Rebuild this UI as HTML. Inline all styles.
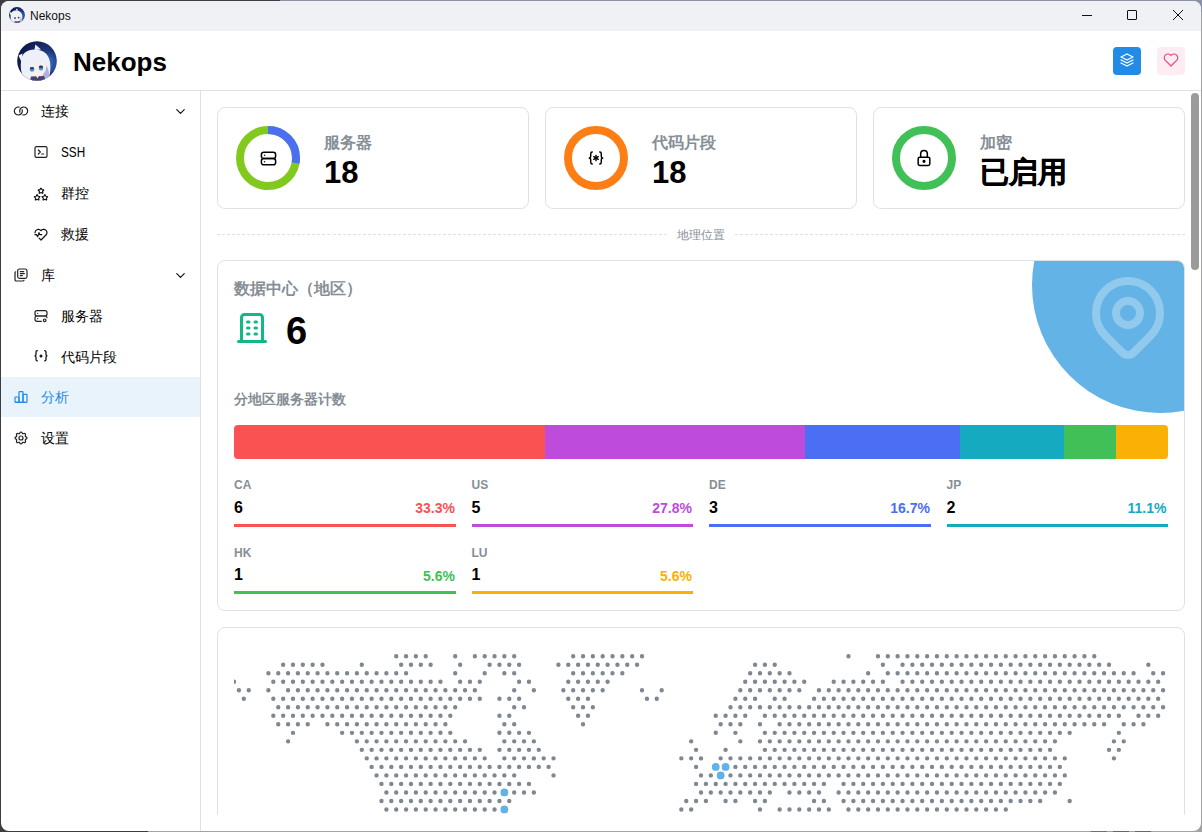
<!DOCTYPE html>
<html><head><meta charset="utf-8">
<style>
*{box-sizing:border-box;margin:0;padding:0}
html,body{width:1202px;height:832px;overflow:hidden;background:#a2a2a2;font-family:"Liberation Sans",sans-serif;}
#win{position:absolute;left:1px;top:1px;width:1200px;height:830px;border-radius:8px;overflow:hidden;background:#fff}
#pg{position:absolute;left:-1px;top:-1px;width:1202px;height:832px}
.a{position:absolute;white-space:nowrap}
.ic{position:absolute;overflow:visible}
.card{position:absolute;border:1px solid #dee2e6;border-radius:8px;background:#fff;overflow:hidden}
.dash{position:absolute;height:1px;background:repeating-linear-gradient(90deg,#dee2e6 0 3px,transparent 3px 5.0225px)}
.nl{font-size:14px;color:#000;line-height:16px}
.lab{font-size:16px;font-weight:bold;color:#868e96;line-height:18px}
.big{font-size:31px;font-weight:bold;color:#000;line-height:32px}
.cc{font-size:12px;font-weight:bold;color:#868e96;line-height:14px}
.cv{font-size:16px;font-weight:bold;color:#000;line-height:16px}
.cp{font-size:14px;font-weight:bold;line-height:16px;text-align:right}
.ln{position:absolute;height:3px;width:221.5px}
</style></head><body>
<div class="a" style="left:0;top:0;width:1px;height:832px;background:#3b3e41"></div>
<div class="a" style="left:0;top:0;width:280px;height:1px;background:#3b3e41"></div>
<div class="a" style="left:280px;top:0;width:922px;height:1px;background:#8a93a7"></div>
<div class="a" style="left:1192px;top:0;width:10px;height:12px;background:#8a93a7"></div>
<div class="a" style="left:0;top:820px;width:12px;height:12px;background:#3b3e41"></div>
<div class="a" style="left:0;top:0;width:12px;height:12px;background:#3b3e41"></div>
<div class="a" style="left:0;top:831px;width:148px;height:1px;background:#3b3e41"></div>
<div class="a" style="left:1091px;top:831px;width:16px;height:1px;background:#3f8f4f"></div>
<div class="a" style="left:1113px;top:831px;width:16px;height:1px;background:#3b6ea8"></div>
<div class="a" style="left:1135px;top:831px;width:16px;height:1px;background:#b04a4a"></div>
<div id="win"><div id="pg">
  <!-- title bar -->
  <div class="a" style="left:0;top:0;width:1202px;height:31px;background:#eff1f5"></div>
  <svg class="ic" style="left:9px;top:7px;width:16px;height:16px" viewBox="0 0 40 40">
    <defs><clipPath id="avc2"><circle cx="20" cy="20" r="19.8"/></clipPath>
    <radialGradient id="avg2" cx="0.75" cy="0.55" r="0.7"><stop offset="0" stop-color="#3d7ad0"/><stop offset="0.45" stop-color="#1d3478"/><stop offset="1" stop-color="#101849"/></radialGradient></defs>
    <g clip-path="url(#avc2)">
      <rect width="40" height="40" fill="url(#avg2)"/>
      <path d="M5.5 12.5 L1.5 14.5 L4.5 21 Z" fill="#f2f3fa"/>
      <path d="M17.5 9 L18.4 3.5 L24 8.5 Z" fill="#f2f3fa"/>
      <path d="M4 21 C4 12 11 8 19 8.5 C27 9 32 14 33 21 C34 29 33 35 30 40 L8 40 C5 34 3 28 4 21 Z" fill="#eef0f9"/>
      <path d="M27.5 22 C31 26 33 31 32 40 L25 40 Z" fill="#aeb0e0"/>
      <path d="M12.5 24 C15 21.5 26 21 29 23 C30 29 28 33.5 21 35 C15 35 12 31 12.5 24 Z" fill="#fcefe9"/>
      <path d="M11 17 L14 27 L16 19 L19 25 L21 18 L25 24 L26 18 L30 24 L29 15 Z" fill="#eef0f9"/>
      <ellipse cx="15" cy="28.3" rx="2.3" ry="2.5" fill="#3aa0e0"/>
      <ellipse cx="15" cy="27.2" rx="2.1" ry="1.3" fill="#27407f"/>
      <ellipse cx="24" cy="27" rx="2.3" ry="2.5" fill="#3aa0e0"/>
      <ellipse cx="24" cy="25.9" rx="2.1" ry="1.3" fill="#27407f"/>
      <path d="M14 35.5 L27 35 L29 40 L13 40 Z" fill="#49426e"/>
      <path d="M19 35 L22 35 L20.5 37.5 Z" fill="#e8e0f4"/>
    </g></svg>
  <div class="a" style="left:30px;top:9px;font-size:12px;line-height:14px;color:#111">Nekops</div>
  <div class="a" style="left:1082px;top:15px;width:10px;height:1px;background:#111"></div>
  <div class="a" style="left:1127px;top:10px;width:10px;height:10px;border:1px solid #111;border-radius:1px"></div>
  <svg class="ic" style="left:1173px;top:10px;width:10px;height:10px" viewBox="0 0 10 10"><path d="M0 0L10 10M10 0L0 10" stroke="#111" stroke-width="1"/></svg>

  <!-- header -->
  <div class="a" style="left:0;top:90px;width:1202px;height:1px;background:#dee2e6"></div>
  <svg class="ic" style="left:17px;top:41px;width:40px;height:40px" viewBox="0 0 40 40">
    <defs><clipPath id="avc"><circle cx="20" cy="20" r="19.8"/></clipPath>
    <radialGradient id="avg" cx="0.75" cy="0.55" r="0.7"><stop offset="0" stop-color="#3d7ad0"/><stop offset="0.45" stop-color="#1d3478"/><stop offset="1" stop-color="#101849"/></radialGradient></defs>
    <g clip-path="url(#avc)">
      <rect width="40" height="40" fill="url(#avg)"/>
      <path d="M5.5 12.5 L1.5 14.5 L4.5 21 Z" fill="#f2f3fa"/>
      <path d="M17.5 9 L18.4 3.5 L24 8.5 Z" fill="#f2f3fa"/>
      <path d="M4 21 C4 12 11 8 19 8.5 C27 9 32 14 33 21 C34 29 33 35 30 40 L8 40 C5 34 3 28 4 21 Z" fill="#eef0f9"/>
      <path d="M27.5 22 C31 26 33 31 32 40 L25 40 Z" fill="#aeb0e0"/>
      <path d="M12.5 24 C15 21.5 26 21 29 23 C30 29 28 33.5 21 35 C15 35 12 31 12.5 24 Z" fill="#fcefe9"/>
      <path d="M11 17 L14 27 L16 19 L19 25 L21 18 L25 24 L26 18 L30 24 L29 15 Z" fill="#eef0f9"/>
      <ellipse cx="15" cy="28.3" rx="2.3" ry="2.5" fill="#3aa0e0"/>
      <ellipse cx="15" cy="27.2" rx="2.1" ry="1.3" fill="#27407f"/>
      <ellipse cx="24" cy="27" rx="2.3" ry="2.5" fill="#3aa0e0"/>
      <ellipse cx="24" cy="25.9" rx="2.1" ry="1.3" fill="#27407f"/>
      <path d="M14 35.5 L27 35 L29 40 L13 40 Z" fill="#49426e"/>
      <path d="M19 35 L22 35 L20.5 37.5 Z" fill="#e8e0f4"/>
    </g></svg>
  <div class="a" style="left:73px;top:47px;font-size:26px;line-height:30px;font-weight:bold;color:#000">Nekops</div>
  <div class="a" style="left:1113px;top:47px;width:28px;height:28px;border-radius:4px;background:#228be6"></div>
  <svg class="ic" style="left:1118.0px;top:51.0px;width:18.0px;height:18.0px" viewBox="0 0 24 24" fill="none" stroke="#fff" stroke-width="1.7" stroke-linecap="round" stroke-linejoin="round"><path d="M12 4l-8 4l8 4l8 -4l-8 -4"/><path d="M4 12l8 4l8 -4"/><path d="M4 16l8 4l8 -4"/></svg>
  <div class="a" style="left:1157px;top:47px;width:28px;height:28px;border-radius:4px;background:#fdedf3"></div>
  <svg class="ic" style="left:1162.0px;top:51.0px;width:18.0px;height:18.0px" viewBox="0 0 24 24" fill="none" stroke="#e64980" stroke-width="1.6" stroke-linecap="round" stroke-linejoin="round"><path d="M19.5 12.572l-7.5 7.428l-7.5 -7.428a5 5 0 1 1 7.5 -6.566a5 5 0 1 1 7.5 6.572"/></svg>

  <!-- sidebar -->
  <div class="a" style="left:200px;top:91px;width:1px;height:741px;background:#dee2e6"></div>
  <div class="a" style="left:1px;top:377px;width:199px;height:40px;background:#e8f3fc"></div>

  <svg class="ic" style="left:13.0px;top:103.0px;width:16.0px;height:16.0px" viewBox="0 0 24 24" fill="none" stroke="#222" stroke-width="1.8" stroke-linecap="round" stroke-linejoin="round"><path d="M9.183 6.117a6 6 0 1 0 4.511 3.986"/><path d="M14.813 17.883a6 6 0 1 0 -4.496 -3.954"/></svg>
  <div class="a nl" style="left:41px;top:103px">连接</div>
  <svg class="ic" style="left:172.5px;top:103.5px;width:15.0px;height:15.0px" viewBox="0 0 24 24" fill="none" stroke="#111" stroke-width="1.9" stroke-linecap="round" stroke-linejoin="round"><path d="M6 9l6 6l6 -6"/></svg>
  <svg class="ic" style="left:33.0px;top:144.0px;width:16.0px;height:16.0px" viewBox="0 0 24 24" fill="none" stroke="#222" stroke-width="1.8" stroke-linecap="round" stroke-linejoin="round"><path d="M8 9l3 3l-3 3"/><path d="M13 15l3 0"/><path d="M3 6a2 2 0 0 1 2 -2h14a2 2 0 0 1 2 2v12a2 2 0 0 1 -2 2h-14a2 2 0 0 1 -2 -2z"/></svg>
  <div class="a nl" style="left:61px;top:144px;transform:scaleX(.84);transform-origin:0 0">SSH</div>
  <svg class="ic" style="left:33.0px;top:185.5px;width:16.0px;height:16.0px" viewBox="0 0 24 24" fill="none" stroke="#111" stroke-width="1.7" stroke-linecap="round" stroke-linejoin="round"><path d="M17.8 19.817l-2.172 1.138a.392 .392 0 0 1 -.568 -.41l.415 -2.411l-1.757 -1.707a.389 .389 0 0 1 .217 -.665l2.428 -.352l1.086 -2.193a.392 .392 0 0 1 .702 0l1.086 2.193l2.428 .352a.39 .39 0 0 1 .217 .665l-1.757 1.707l.414 2.41a.39 .39 0 0 1 -.567 .411l-2.172 -1.138z"/><path d="M6.2 19.817l-2.172 1.138a.392 .392 0 0 1 -.568 -.41l.415 -2.411l-1.757 -1.707a.389 .389 0 0 1 .217 -.665l2.428 -.352l1.086 -2.193a.392 .392 0 0 1 .702 0l1.086 2.193l2.428 .352a.39 .39 0 0 1 .217 .665l-1.757 1.707l.414 2.41a.39 .39 0 0 1 -.567 .411l-2.172 -1.138z"/><path d="M12 9.817l-2.172 1.138a.392 .392 0 0 1 -.568 -.41l.415 -2.411l-1.757 -1.707a.389 .389 0 0 1 .217 -.665l2.428 -.352l1.086 -2.193a.392 .392 0 0 1 .702 0l1.086 2.193l2.428 .352a.39 .39 0 0 1 .217 .665l-1.757 1.707l.414 2.41a.39 .39 0 0 1 -.567 .411l-2.172 -1.138z"/></svg>
  <div class="a nl" style="left:61px;top:185px">群控</div>
  <svg class="ic" style="left:33.0px;top:226.0px;width:16.0px;height:16.0px" viewBox="0 0 24 24" fill="none" stroke="#111" stroke-width="1.8" stroke-linecap="round" stroke-linejoin="round"><path d="M19.5 13.572l-7.5 7.428l-2.896 -2.868m-6.117 -8.104a5 5 0 0 1 9.013 -3.022a5 5 0 1 1 7.5 6.572"/><path d="M3 13h2l2 3l2 -6l1 3h3"/></svg>
  <div class="a nl" style="left:61px;top:226px">救援</div>
  <svg class="ic" style="left:13.0px;top:267.0px;width:16.0px;height:16.0px" viewBox="0 0 24 24" fill="none" stroke="#222" stroke-width="1.8" stroke-linecap="round" stroke-linejoin="round"><path d="M7 5.667a2.667 2.667 0 0 1 2.667 -2.667h8.666a2.667 2.667 0 0 1 2.667 2.667v8.666a2.667 2.667 0 0 1 -2.667 2.667h-8.666a2.667 2.667 0 0 1 -2.667 -2.667z"/><path d="M4.012 7.26a2.005 2.005 0 0 0 -1.012 1.737v10c0 1.1 .9 2 2 2h10c.75 0 1.158 -.385 1.5 -1"/><path d="M11 7h5"/><path d="M11 10h6"/><path d="M11 13h3"/></svg>
  <div class="a nl" style="left:41px;top:267px">库</div>
  <svg class="ic" style="left:172.5px;top:267.5px;width:15.0px;height:15.0px" viewBox="0 0 24 24" fill="none" stroke="#111" stroke-width="1.9" stroke-linecap="round" stroke-linejoin="round"><path d="M6 9l6 6l6 -6"/></svg>
  <svg class="ic" style="left:33.0px;top:307.5px;width:16.0px;height:16.0px" viewBox="0 0 24 24" fill="none" stroke="#222" stroke-width="1.8" stroke-linecap="round" stroke-linejoin="round"><path d="M3 7a3 3 0 0 1 3 -3h12a3 3 0 0 1 3 3v2a3 3 0 0 1 -3 3h-12a3 3 0 0 1 -3 -3z"/><path d="M12.5 20h-6.5a3 3 0 0 1 -3 -3v-2a3 3 0 0 1 3 -3h12a3 3 0 0 1 3 2.5"/><path d="M7 8v.01"/><path d="M7 16v.01"/><path d="M17.5 18.5m-2 0a2 2 0 1 0 4 0a2 2 0 1 0 -4 0"/></svg>
  <div class="a nl" style="left:61px;top:308px">服务器</div>
  <svg class="ic" style="left:33.0px;top:349.0px;width:16.0px;height:16.0px" viewBox="0 0 24 24" fill="none" stroke="#111" stroke-width="1.9" stroke-linecap="round" stroke-linejoin="round"><path d="M6.5 2.5c-1.5 0 -2 .8 -2 2v3.5c0 1 -.6 2 -1.5 2.2c.9 .2 1.5 1.2 1.5 2.2v3.5c0 1.2 .5 2 2 2"/><path d="M17.5 2.5c1.5 0 2 .8 2 2v3.5c0 1 .6 2 1.5 2.2c-.9 .2 -1.5 1.2 -1.5 2.2v3.5c0 1.2 -.5 2 -2 2"/><path d="M12 10.4m-1.3 0a1.3 1.3 0 1 0 2.6 0a1.3 1.3 0 1 0 -2.6 0"/></svg>
  <div class="a nl" style="left:61px;top:349px">代码片段</div>
  <svg class="ic" style="left:13.0px;top:389.0px;width:16.0px;height:16.0px" viewBox="0 0 24 24" fill="none" stroke="#228be6" stroke-width="1.8" stroke-linecap="round" stroke-linejoin="round"><path d="M3 13a1 1 0 0 1 1 -1h4a1 1 0 0 1 1 1v6a1 1 0 0 1 -1 1h-4a1 1 0 0 1 -1 -1z"/><path d="M15 9a1 1 0 0 1 1 -1h4a1 1 0 0 1 1 1v10a1 1 0 0 1 -1 1h-4a1 1 0 0 1 -1 -1z"/><path d="M9 5a1 1 0 0 1 1 -1h4a1 1 0 0 1 1 1v14a1 1 0 0 1 -1 1h-4a1 1 0 0 1 -1 -1z"/><path d="M4 20h14"/></svg>
  <div class="a nl" style="left:41px;top:389px;color:#228be6">分析</div>
  <svg class="ic" style="left:13.0px;top:430.0px;width:16.0px;height:16.0px" viewBox="0 0 24 24" fill="none" stroke="#222" stroke-width="1.8" stroke-linecap="round" stroke-linejoin="round"><path d="M10.325 4.317c.426 -1.756 2.924 -1.756 3.35 0a1.724 1.724 0 0 0 2.573 1.066c1.543 -.94 3.31 .826 2.37 2.37a1.724 1.724 0 0 0 1.065 2.572c1.756 .426 1.756 2.924 0 3.35a1.724 1.724 0 0 0 -1.066 2.573c.94 1.543 -.826 3.31 -2.37 2.37a1.724 1.724 0 0 0 -2.572 1.065c-.426 1.756 -2.924 1.756 -3.35 0a1.724 1.724 0 0 0 -2.573 -1.066c-1.543 .94 -3.31 -.826 -2.37 -2.37a1.724 1.724 0 0 0 -1.065 -2.572c-1.756 -.426 -1.756 -2.924 0 -3.35a1.724 1.724 0 0 0 1.066 -2.573c-.94 -1.543 .826 -3.31 2.37 -2.37c1 .608 2.296 .07 2.572 -1.065z"/><path d="M9 12a3 3 0 1 0 6 0a3 3 0 0 0 -6 0"/></svg>
  <div class="a nl" style="left:41px;top:430px">设置</div>

  <!-- main -->
  <div class="a" style="left:201px;top:91px;width:1000px;height:724px;overflow:hidden">
   <div class="a" style="left:-201px;top:-91px;width:1202px;height:832px">
    <!-- stat cards -->
    <div class="card" style="left:217px;top:107px;width:312px;height:102px"></div>
    <div class="card" style="left:545px;top:107px;width:312px;height:102px"></div>
    <div class="card" style="left:873px;top:107px;width:312px;height:102px"></div>

    <svg class="ic" style="left:236px;top:126px;width:64px;height:64px" viewBox="0 0 64 64">
      <circle cx="32" cy="32" r="28" fill="none" stroke="#82c91e" stroke-width="8"/>
      <circle cx="32" cy="32" r="28" fill="none" stroke="#4c6ef5" stroke-width="8" stroke-dasharray="48.9 200" transform="rotate(-90 32 32)"/>
    </svg>
    <svg class="ic" style="left:258.5px;top:148.5px;width:19.0px;height:19.0px" viewBox="0 0 24 24" fill="none" stroke="#000" stroke-width="1.9" stroke-linecap="round" stroke-linejoin="round"><path d="M3 7a3 3 0 0 1 3 -3h12a3 3 0 0 1 3 3v2a3 3 0 0 1 -3 3h-12a3 3 0 0 1 -3 -3z"/><path d="M3 15a3 3 0 0 1 3 -3h12a3 3 0 0 1 3 3v2a3 3 0 0 1 -3 3h-12a3 3 0 0 1 -3 -3z"/><path d="M7 8v.01"/><path d="M7 16v.01"/></svg>
    <div class="a lab" style="left:324px;top:134px">服务器</div>
    <div class="a big" style="left:324px;top:156.5px">18</div>

    <svg class="ic" style="left:564px;top:126px;width:64px;height:64px" viewBox="0 0 64 64">
      <circle cx="32" cy="32" r="28" fill="none" stroke="#fd7e14" stroke-width="8"/>
    </svg>
    <svg class="ic" style="left:587.0px;top:149.0px;width:18.0px;height:18.0px" viewBox="0 0 24 24" fill="none" stroke="#000" stroke-width="1.9" stroke-linecap="round" stroke-linejoin="round"><path d="M7 4a2 2 0 0 0 -2 2v3a2 3 0 0 1 -2 3a2 3 0 0 1 2 3v3a2 2 0 0 0 2 2"/><path d="M17 4a2 2 0 0 1 2 2v3a2 3 0 0 0 2 3a2 3 0 0 0 -2 3v3a2 2 0 0 1 -2 2"/><path d="M12 8.5v7"/><path d="M9 10.2l6 3.6"/><path d="M15 10.2l-6 3.6"/></svg>
    <div class="a lab" style="left:652px;top:134px">代码片段</div>
    <div class="a big" style="left:652px;top:156.5px">18</div>

    <svg class="ic" style="left:892px;top:126px;width:64px;height:64px" viewBox="0 0 64 64">
      <circle cx="32" cy="32" r="28" fill="none" stroke="#40c057" stroke-width="8"/>
    </svg>
    <svg class="ic" style="left:914.0px;top:148.0px;width:20.0px;height:20.0px" viewBox="0 0 24 24" fill="none" stroke="#000" stroke-width="1.8" stroke-linecap="round" stroke-linejoin="round"><path d="M5 13a2 2 0 0 1 2 -2h10a2 2 0 0 1 2 2v6a2 2 0 0 1 -2 2h-10a2 2 0 0 1 -2 -2v-6z"/><path d="M11 16a1 1 0 1 0 2 0a1 1 0 0 0 -2 0"/><path d="M8 11v-4a4 4 0 1 1 8 0v4"/></svg>
    <div class="a lab" style="left:980px;top:134px">加密</div>
    <div class="a big" style="left:980px;top:156px;font-size:29px;font-weight:bold;-webkit-text-stroke:0.5px #000">已启用</div>

    <!-- divider -->
    <div class="dash" style="left:217px;top:234px;width:450px"></div>
    <div class="a" style="left:677px;top:228px;font-size:12px;line-height:14px;color:#868e96">地理位置</div>
    <div class="dash" style="left:735px;top:234px;width:450px"></div>

    <!-- datacenter card -->
    <div class="card" style="left:217px;top:260px;width:968px;height:351px">
      <div class="a" style="left:814px;top:-104px;width:256px;height:256px;border-radius:50%;background:#63b3e6"></div>
    </div>
    <svg class="ic" style="left:1080.0px;top:269.0px;width:96.0px;height:96.0px" viewBox="0 0 24 24" fill="none" stroke="rgba(255,255,255,0.3)" stroke-width="2.0" stroke-linecap="round" stroke-linejoin="round"><path d="M9 11a3 3 0 1 0 6 0a3 3 0 0 0 -6 0"/><path d="M17.657 16.657l-4.243 4.243a2 2 0 0 1 -2.827 0l-4.244 -4.243a8 8 0 1 1 11.314 0z"/></svg>
    <div class="a lab" style="left:234px;top:280px">数据中心（地区）</div>
    <svg class="ic" style="left:234.0px;top:310.0px;width:36.0px;height:36.0px" viewBox="0 0 24 24" fill="none" stroke="#12b886" stroke-width="2.0" stroke-linecap="round" stroke-linejoin="round"><path d="M3 21l18 0"/><path d="M9 8l1 0"/><path d="M9 12l1 0"/><path d="M9 16l1 0"/><path d="M14 8l1 0"/><path d="M14 12l1 0"/><path d="M14 16l1 0"/><path d="M5 21v-16a2 2 0 0 1 2 -2h10a2 2 0 0 1 2 2v16"/></svg>
    <div class="a" style="left:286px;top:311px;font-size:38px;line-height:40px;font-weight:bold;color:#000">6</div>
    <div class="a" style="left:234px;top:391px;font-size:14px;line-height:16px;font-weight:bold;color:#868e96">分地区服务器计数</div>

    <div class="a" style="left:234px;top:425px;width:934px;height:34px;border-radius:4px;overflow:hidden;display:flex">
      <div style="width:311.3px;background:#fa5252"></div>
      <div style="width:259.5px;background:#be4bdb"></div>
      <div style="width:155.7px;background:#4c6ef5"></div>
      <div style="width:103.8px;background:#15aabf"></div>
      <div style="width:51.9px;background:#40c057"></div>
      <div style="flex:1;background:#fab005"></div>
    </div>

    <div class="a cc" style="left:234px;top:478px">CA</div>
    <div class="a cv" style="left:234px;top:500px">6</div>
    <div class="a cp" style="left:356px;top:500px;width:99px;color:#fa5252">33.3%</div>
    <div class="ln" style="left:234px;top:524px;background:#fa5252"></div>

    <div class="a cc" style="left:471.5px;top:478px">US</div>
    <div class="a cv" style="left:471.5px;top:500px">5</div>
    <div class="a cp" style="left:593px;top:500px;width:99px;color:#be4bdb">27.8%</div>
    <div class="ln" style="left:471.5px;top:524px;background:#be4bdb"></div>

    <div class="a cc" style="left:709px;top:478px">DE</div>
    <div class="a cv" style="left:709px;top:500px">3</div>
    <div class="a cp" style="left:831px;top:500px;width:99px;color:#4c6ef5">16.7%</div>
    <div class="ln" style="left:709px;top:524px;background:#4c6ef5"></div>

    <div class="a cc" style="left:946.5px;top:478px">JP</div>
    <div class="a cv" style="left:946.5px;top:500px">2</div>
    <div class="a cp" style="left:1067.5px;top:500px;width:99px;color:#15aabf">11.1%</div>
    <div class="ln" style="left:946.5px;top:524px;background:#15aabf"></div>

    <div class="a cc" style="left:234px;top:546px">HK</div>
    <div class="a cv" style="left:234px;top:567px">1</div>
    <div class="a cp" style="left:356px;top:568px;width:99px;color:#40c057">5.6%</div>
    <div class="ln" style="left:234px;top:591px;background:#40c057"></div>

    <div class="a cc" style="left:471.5px;top:546px">LU</div>
    <div class="a cv" style="left:471.5px;top:567px">1</div>
    <div class="a cp" style="left:593px;top:568px;width:99px;color:#fab005">5.6%</div>
    <div class="ln" style="left:471.5px;top:591px;background:#fab005"></div>

    <!-- map card -->
    <div class="card" style="left:217px;top:627px;width:968px;height:400px">
      <svg width="934" height="188" style="position:absolute;left:16px;top:-1px"><path fill="#7f8791" d="M160.02 29.20a2.2 2.2 0 1 0 4.4 0a2.2 2.2 0 1 0 -4.4 0M169.85 29.20a2.2 2.2 0 1 0 4.4 0a2.2 2.2 0 1 0 -4.4 0M179.68 29.20a2.2 2.2 0 1 0 4.4 0a2.2 2.2 0 1 0 -4.4 0M189.52 29.20a2.2 2.2 0 1 0 4.4 0a2.2 2.2 0 1 0 -4.4 0M219.01 29.20a2.2 2.2 0 1 0 4.4 0a2.2 2.2 0 1 0 -4.4 0M238.67 29.20a2.2 2.2 0 1 0 4.4 0a2.2 2.2 0 1 0 -4.4 0M248.51 29.20a2.2 2.2 0 1 0 4.4 0a2.2 2.2 0 1 0 -4.4 0M258.34 29.20a2.2 2.2 0 1 0 4.4 0a2.2 2.2 0 1 0 -4.4 0M268.17 29.20a2.2 2.2 0 1 0 4.4 0a2.2 2.2 0 1 0 -4.4 0M278.00 29.20a2.2 2.2 0 1 0 4.4 0a2.2 2.2 0 1 0 -4.4 0M336.99 29.20a2.2 2.2 0 1 0 4.4 0a2.2 2.2 0 1 0 -4.4 0M346.82 29.20a2.2 2.2 0 1 0 4.4 0a2.2 2.2 0 1 0 -4.4 0M356.65 29.20a2.2 2.2 0 1 0 4.4 0a2.2 2.2 0 1 0 -4.4 0M366.48 29.20a2.2 2.2 0 1 0 4.4 0a2.2 2.2 0 1 0 -4.4 0M376.32 29.20a2.2 2.2 0 1 0 4.4 0a2.2 2.2 0 1 0 -4.4 0M386.15 29.20a2.2 2.2 0 1 0 4.4 0a2.2 2.2 0 1 0 -4.4 0M395.98 29.20a2.2 2.2 0 1 0 4.4 0a2.2 2.2 0 1 0 -4.4 0M405.81 29.20a2.2 2.2 0 1 0 4.4 0a2.2 2.2 0 1 0 -4.4 0M612.27 29.20a2.2 2.2 0 1 0 4.4 0a2.2 2.2 0 1 0 -4.4 0M641.77 29.20a2.2 2.2 0 1 0 4.4 0a2.2 2.2 0 1 0 -4.4 0M651.60 29.20a2.2 2.2 0 1 0 4.4 0a2.2 2.2 0 1 0 -4.4 0M661.43 29.20a2.2 2.2 0 1 0 4.4 0a2.2 2.2 0 1 0 -4.4 0M671.26 29.20a2.2 2.2 0 1 0 4.4 0a2.2 2.2 0 1 0 -4.4 0M681.09 29.20a2.2 2.2 0 1 0 4.4 0a2.2 2.2 0 1 0 -4.4 0M690.93 29.20a2.2 2.2 0 1 0 4.4 0a2.2 2.2 0 1 0 -4.4 0M700.76 29.20a2.2 2.2 0 1 0 4.4 0a2.2 2.2 0 1 0 -4.4 0M710.59 29.20a2.2 2.2 0 1 0 4.4 0a2.2 2.2 0 1 0 -4.4 0M720.42 29.20a2.2 2.2 0 1 0 4.4 0a2.2 2.2 0 1 0 -4.4 0M730.25 29.20a2.2 2.2 0 1 0 4.4 0a2.2 2.2 0 1 0 -4.4 0M740.08 29.20a2.2 2.2 0 1 0 4.4 0a2.2 2.2 0 1 0 -4.4 0M749.92 29.20a2.2 2.2 0 1 0 4.4 0a2.2 2.2 0 1 0 -4.4 0M759.75 29.20a2.2 2.2 0 1 0 4.4 0a2.2 2.2 0 1 0 -4.4 0M769.58 29.20a2.2 2.2 0 1 0 4.4 0a2.2 2.2 0 1 0 -4.4 0M779.41 29.20a2.2 2.2 0 1 0 4.4 0a2.2 2.2 0 1 0 -4.4 0M789.24 29.20a2.2 2.2 0 1 0 4.4 0a2.2 2.2 0 1 0 -4.4 0M799.07 29.20a2.2 2.2 0 1 0 4.4 0a2.2 2.2 0 1 0 -4.4 0M808.91 29.20a2.2 2.2 0 1 0 4.4 0a2.2 2.2 0 1 0 -4.4 0M818.74 29.20a2.2 2.2 0 1 0 4.4 0a2.2 2.2 0 1 0 -4.4 0M828.57 29.20a2.2 2.2 0 1 0 4.4 0a2.2 2.2 0 1 0 -4.4 0M838.40 29.20a2.2 2.2 0 1 0 4.4 0a2.2 2.2 0 1 0 -4.4 0M848.23 29.20a2.2 2.2 0 1 0 4.4 0a2.2 2.2 0 1 0 -4.4 0M858.06 29.20a2.2 2.2 0 1 0 4.4 0a2.2 2.2 0 1 0 -4.4 0M46.96 37.71a2.2 2.2 0 1 0 4.4 0a2.2 2.2 0 1 0 -4.4 0M56.79 37.71a2.2 2.2 0 1 0 4.4 0a2.2 2.2 0 1 0 -4.4 0M66.62 37.71a2.2 2.2 0 1 0 4.4 0a2.2 2.2 0 1 0 -4.4 0M76.45 37.71a2.2 2.2 0 1 0 4.4 0a2.2 2.2 0 1 0 -4.4 0M86.28 37.71a2.2 2.2 0 1 0 4.4 0a2.2 2.2 0 1 0 -4.4 0M125.61 37.71a2.2 2.2 0 1 0 4.4 0a2.2 2.2 0 1 0 -4.4 0M164.94 37.71a2.2 2.2 0 1 0 4.4 0a2.2 2.2 0 1 0 -4.4 0M174.77 37.71a2.2 2.2 0 1 0 4.4 0a2.2 2.2 0 1 0 -4.4 0M184.60 37.71a2.2 2.2 0 1 0 4.4 0a2.2 2.2 0 1 0 -4.4 0M194.43 37.71a2.2 2.2 0 1 0 4.4 0a2.2 2.2 0 1 0 -4.4 0M223.93 37.71a2.2 2.2 0 1 0 4.4 0a2.2 2.2 0 1 0 -4.4 0M253.42 37.71a2.2 2.2 0 1 0 4.4 0a2.2 2.2 0 1 0 -4.4 0M263.25 37.71a2.2 2.2 0 1 0 4.4 0a2.2 2.2 0 1 0 -4.4 0M273.08 37.71a2.2 2.2 0 1 0 4.4 0a2.2 2.2 0 1 0 -4.4 0M282.92 37.71a2.2 2.2 0 1 0 4.4 0a2.2 2.2 0 1 0 -4.4 0M322.24 37.71a2.2 2.2 0 1 0 4.4 0a2.2 2.2 0 1 0 -4.4 0M332.07 37.71a2.2 2.2 0 1 0 4.4 0a2.2 2.2 0 1 0 -4.4 0M341.91 37.71a2.2 2.2 0 1 0 4.4 0a2.2 2.2 0 1 0 -4.4 0M351.74 37.71a2.2 2.2 0 1 0 4.4 0a2.2 2.2 0 1 0 -4.4 0M361.57 37.71a2.2 2.2 0 1 0 4.4 0a2.2 2.2 0 1 0 -4.4 0M371.40 37.71a2.2 2.2 0 1 0 4.4 0a2.2 2.2 0 1 0 -4.4 0M381.23 37.71a2.2 2.2 0 1 0 4.4 0a2.2 2.2 0 1 0 -4.4 0M391.06 37.71a2.2 2.2 0 1 0 4.4 0a2.2 2.2 0 1 0 -4.4 0M400.89 37.71a2.2 2.2 0 1 0 4.4 0a2.2 2.2 0 1 0 -4.4 0M518.87 37.71a2.2 2.2 0 1 0 4.4 0a2.2 2.2 0 1 0 -4.4 0M528.71 37.71a2.2 2.2 0 1 0 4.4 0a2.2 2.2 0 1 0 -4.4 0M538.54 37.71a2.2 2.2 0 1 0 4.4 0a2.2 2.2 0 1 0 -4.4 0M646.68 37.71a2.2 2.2 0 1 0 4.4 0a2.2 2.2 0 1 0 -4.4 0M666.35 37.71a2.2 2.2 0 1 0 4.4 0a2.2 2.2 0 1 0 -4.4 0M676.18 37.71a2.2 2.2 0 1 0 4.4 0a2.2 2.2 0 1 0 -4.4 0M686.01 37.71a2.2 2.2 0 1 0 4.4 0a2.2 2.2 0 1 0 -4.4 0M695.84 37.71a2.2 2.2 0 1 0 4.4 0a2.2 2.2 0 1 0 -4.4 0M705.67 37.71a2.2 2.2 0 1 0 4.4 0a2.2 2.2 0 1 0 -4.4 0M715.51 37.71a2.2 2.2 0 1 0 4.4 0a2.2 2.2 0 1 0 -4.4 0M725.34 37.71a2.2 2.2 0 1 0 4.4 0a2.2 2.2 0 1 0 -4.4 0M735.17 37.71a2.2 2.2 0 1 0 4.4 0a2.2 2.2 0 1 0 -4.4 0M745.00 37.71a2.2 2.2 0 1 0 4.4 0a2.2 2.2 0 1 0 -4.4 0M754.83 37.71a2.2 2.2 0 1 0 4.4 0a2.2 2.2 0 1 0 -4.4 0M764.66 37.71a2.2 2.2 0 1 0 4.4 0a2.2 2.2 0 1 0 -4.4 0M774.49 37.71a2.2 2.2 0 1 0 4.4 0a2.2 2.2 0 1 0 -4.4 0M784.33 37.71a2.2 2.2 0 1 0 4.4 0a2.2 2.2 0 1 0 -4.4 0M794.16 37.71a2.2 2.2 0 1 0 4.4 0a2.2 2.2 0 1 0 -4.4 0M803.99 37.71a2.2 2.2 0 1 0 4.4 0a2.2 2.2 0 1 0 -4.4 0M813.82 37.71a2.2 2.2 0 1 0 4.4 0a2.2 2.2 0 1 0 -4.4 0M823.65 37.71a2.2 2.2 0 1 0 4.4 0a2.2 2.2 0 1 0 -4.4 0M833.48 37.71a2.2 2.2 0 1 0 4.4 0a2.2 2.2 0 1 0 -4.4 0M843.32 37.71a2.2 2.2 0 1 0 4.4 0a2.2 2.2 0 1 0 -4.4 0M853.15 37.71a2.2 2.2 0 1 0 4.4 0a2.2 2.2 0 1 0 -4.4 0M862.98 37.71a2.2 2.2 0 1 0 4.4 0a2.2 2.2 0 1 0 -4.4 0M872.81 37.71a2.2 2.2 0 1 0 4.4 0a2.2 2.2 0 1 0 -4.4 0M912.14 37.71a2.2 2.2 0 1 0 4.4 0a2.2 2.2 0 1 0 -4.4 0M32.21 46.23a2.2 2.2 0 1 0 4.4 0a2.2 2.2 0 1 0 -4.4 0M42.04 46.23a2.2 2.2 0 1 0 4.4 0a2.2 2.2 0 1 0 -4.4 0M51.87 46.23a2.2 2.2 0 1 0 4.4 0a2.2 2.2 0 1 0 -4.4 0M61.71 46.23a2.2 2.2 0 1 0 4.4 0a2.2 2.2 0 1 0 -4.4 0M71.54 46.23a2.2 2.2 0 1 0 4.4 0a2.2 2.2 0 1 0 -4.4 0M81.37 46.23a2.2 2.2 0 1 0 4.4 0a2.2 2.2 0 1 0 -4.4 0M91.20 46.23a2.2 2.2 0 1 0 4.4 0a2.2 2.2 0 1 0 -4.4 0M101.03 46.23a2.2 2.2 0 1 0 4.4 0a2.2 2.2 0 1 0 -4.4 0M110.86 46.23a2.2 2.2 0 1 0 4.4 0a2.2 2.2 0 1 0 -4.4 0M120.69 46.23a2.2 2.2 0 1 0 4.4 0a2.2 2.2 0 1 0 -4.4 0M130.53 46.23a2.2 2.2 0 1 0 4.4 0a2.2 2.2 0 1 0 -4.4 0M140.36 46.23a2.2 2.2 0 1 0 4.4 0a2.2 2.2 0 1 0 -4.4 0M150.19 46.23a2.2 2.2 0 1 0 4.4 0a2.2 2.2 0 1 0 -4.4 0M160.02 46.23a2.2 2.2 0 1 0 4.4 0a2.2 2.2 0 1 0 -4.4 0M169.85 46.23a2.2 2.2 0 1 0 4.4 0a2.2 2.2 0 1 0 -4.4 0M219.01 46.23a2.2 2.2 0 1 0 4.4 0a2.2 2.2 0 1 0 -4.4 0M248.51 46.23a2.2 2.2 0 1 0 4.4 0a2.2 2.2 0 1 0 -4.4 0M268.17 46.23a2.2 2.2 0 1 0 4.4 0a2.2 2.2 0 1 0 -4.4 0M278.00 46.23a2.2 2.2 0 1 0 4.4 0a2.2 2.2 0 1 0 -4.4 0M336.99 46.23a2.2 2.2 0 1 0 4.4 0a2.2 2.2 0 1 0 -4.4 0M346.82 46.23a2.2 2.2 0 1 0 4.4 0a2.2 2.2 0 1 0 -4.4 0M356.65 46.23a2.2 2.2 0 1 0 4.4 0a2.2 2.2 0 1 0 -4.4 0M366.48 46.23a2.2 2.2 0 1 0 4.4 0a2.2 2.2 0 1 0 -4.4 0M376.32 46.23a2.2 2.2 0 1 0 4.4 0a2.2 2.2 0 1 0 -4.4 0M386.15 46.23a2.2 2.2 0 1 0 4.4 0a2.2 2.2 0 1 0 -4.4 0M513.96 46.23a2.2 2.2 0 1 0 4.4 0a2.2 2.2 0 1 0 -4.4 0M523.79 46.23a2.2 2.2 0 1 0 4.4 0a2.2 2.2 0 1 0 -4.4 0M533.62 46.23a2.2 2.2 0 1 0 4.4 0a2.2 2.2 0 1 0 -4.4 0M543.45 46.23a2.2 2.2 0 1 0 4.4 0a2.2 2.2 0 1 0 -4.4 0M553.28 46.23a2.2 2.2 0 1 0 4.4 0a2.2 2.2 0 1 0 -4.4 0M631.94 46.23a2.2 2.2 0 1 0 4.4 0a2.2 2.2 0 1 0 -4.4 0M651.60 46.23a2.2 2.2 0 1 0 4.4 0a2.2 2.2 0 1 0 -4.4 0M661.43 46.23a2.2 2.2 0 1 0 4.4 0a2.2 2.2 0 1 0 -4.4 0M671.26 46.23a2.2 2.2 0 1 0 4.4 0a2.2 2.2 0 1 0 -4.4 0M681.09 46.23a2.2 2.2 0 1 0 4.4 0a2.2 2.2 0 1 0 -4.4 0M690.93 46.23a2.2 2.2 0 1 0 4.4 0a2.2 2.2 0 1 0 -4.4 0M700.76 46.23a2.2 2.2 0 1 0 4.4 0a2.2 2.2 0 1 0 -4.4 0M710.59 46.23a2.2 2.2 0 1 0 4.4 0a2.2 2.2 0 1 0 -4.4 0M720.42 46.23a2.2 2.2 0 1 0 4.4 0a2.2 2.2 0 1 0 -4.4 0M730.25 46.23a2.2 2.2 0 1 0 4.4 0a2.2 2.2 0 1 0 -4.4 0M740.08 46.23a2.2 2.2 0 1 0 4.4 0a2.2 2.2 0 1 0 -4.4 0M749.92 46.23a2.2 2.2 0 1 0 4.4 0a2.2 2.2 0 1 0 -4.4 0M759.75 46.23a2.2 2.2 0 1 0 4.4 0a2.2 2.2 0 1 0 -4.4 0M769.58 46.23a2.2 2.2 0 1 0 4.4 0a2.2 2.2 0 1 0 -4.4 0M779.41 46.23a2.2 2.2 0 1 0 4.4 0a2.2 2.2 0 1 0 -4.4 0M789.24 46.23a2.2 2.2 0 1 0 4.4 0a2.2 2.2 0 1 0 -4.4 0M799.07 46.23a2.2 2.2 0 1 0 4.4 0a2.2 2.2 0 1 0 -4.4 0M808.91 46.23a2.2 2.2 0 1 0 4.4 0a2.2 2.2 0 1 0 -4.4 0M818.74 46.23a2.2 2.2 0 1 0 4.4 0a2.2 2.2 0 1 0 -4.4 0M828.57 46.23a2.2 2.2 0 1 0 4.4 0a2.2 2.2 0 1 0 -4.4 0M838.40 46.23a2.2 2.2 0 1 0 4.4 0a2.2 2.2 0 1 0 -4.4 0M848.23 46.23a2.2 2.2 0 1 0 4.4 0a2.2 2.2 0 1 0 -4.4 0M858.06 46.23a2.2 2.2 0 1 0 4.4 0a2.2 2.2 0 1 0 -4.4 0M867.89 46.23a2.2 2.2 0 1 0 4.4 0a2.2 2.2 0 1 0 -4.4 0M877.73 46.23a2.2 2.2 0 1 0 4.4 0a2.2 2.2 0 1 0 -4.4 0M887.56 46.23a2.2 2.2 0 1 0 4.4 0a2.2 2.2 0 1 0 -4.4 0M897.39 46.23a2.2 2.2 0 1 0 4.4 0a2.2 2.2 0 1 0 -4.4 0M917.05 46.23a2.2 2.2 0 1 0 4.4 0a2.2 2.2 0 1 0 -4.4 0M926.88 46.23a2.2 2.2 0 1 0 4.4 0a2.2 2.2 0 1 0 -4.4 0M-2.20 54.74a2.2 2.2 0 1 0 4.4 0a2.2 2.2 0 1 0 -4.4 0M37.13 54.74a2.2 2.2 0 1 0 4.4 0a2.2 2.2 0 1 0 -4.4 0M46.96 54.74a2.2 2.2 0 1 0 4.4 0a2.2 2.2 0 1 0 -4.4 0M56.79 54.74a2.2 2.2 0 1 0 4.4 0a2.2 2.2 0 1 0 -4.4 0M66.62 54.74a2.2 2.2 0 1 0 4.4 0a2.2 2.2 0 1 0 -4.4 0M76.45 54.74a2.2 2.2 0 1 0 4.4 0a2.2 2.2 0 1 0 -4.4 0M86.28 54.74a2.2 2.2 0 1 0 4.4 0a2.2 2.2 0 1 0 -4.4 0M96.12 54.74a2.2 2.2 0 1 0 4.4 0a2.2 2.2 0 1 0 -4.4 0M105.95 54.74a2.2 2.2 0 1 0 4.4 0a2.2 2.2 0 1 0 -4.4 0M115.78 54.74a2.2 2.2 0 1 0 4.4 0a2.2 2.2 0 1 0 -4.4 0M125.61 54.74a2.2 2.2 0 1 0 4.4 0a2.2 2.2 0 1 0 -4.4 0M135.44 54.74a2.2 2.2 0 1 0 4.4 0a2.2 2.2 0 1 0 -4.4 0M145.27 54.74a2.2 2.2 0 1 0 4.4 0a2.2 2.2 0 1 0 -4.4 0M155.11 54.74a2.2 2.2 0 1 0 4.4 0a2.2 2.2 0 1 0 -4.4 0M164.94 54.74a2.2 2.2 0 1 0 4.4 0a2.2 2.2 0 1 0 -4.4 0M174.77 54.74a2.2 2.2 0 1 0 4.4 0a2.2 2.2 0 1 0 -4.4 0M184.60 54.74a2.2 2.2 0 1 0 4.4 0a2.2 2.2 0 1 0 -4.4 0M194.43 54.74a2.2 2.2 0 1 0 4.4 0a2.2 2.2 0 1 0 -4.4 0M204.26 54.74a2.2 2.2 0 1 0 4.4 0a2.2 2.2 0 1 0 -4.4 0M223.93 54.74a2.2 2.2 0 1 0 4.4 0a2.2 2.2 0 1 0 -4.4 0M233.76 54.74a2.2 2.2 0 1 0 4.4 0a2.2 2.2 0 1 0 -4.4 0M243.59 54.74a2.2 2.2 0 1 0 4.4 0a2.2 2.2 0 1 0 -4.4 0M282.92 54.74a2.2 2.2 0 1 0 4.4 0a2.2 2.2 0 1 0 -4.4 0M292.75 54.74a2.2 2.2 0 1 0 4.4 0a2.2 2.2 0 1 0 -4.4 0M332.07 54.74a2.2 2.2 0 1 0 4.4 0a2.2 2.2 0 1 0 -4.4 0M341.91 54.74a2.2 2.2 0 1 0 4.4 0a2.2 2.2 0 1 0 -4.4 0M351.74 54.74a2.2 2.2 0 1 0 4.4 0a2.2 2.2 0 1 0 -4.4 0M361.57 54.74a2.2 2.2 0 1 0 4.4 0a2.2 2.2 0 1 0 -4.4 0M371.40 54.74a2.2 2.2 0 1 0 4.4 0a2.2 2.2 0 1 0 -4.4 0M509.04 54.74a2.2 2.2 0 1 0 4.4 0a2.2 2.2 0 1 0 -4.4 0M518.87 54.74a2.2 2.2 0 1 0 4.4 0a2.2 2.2 0 1 0 -4.4 0M528.71 54.74a2.2 2.2 0 1 0 4.4 0a2.2 2.2 0 1 0 -4.4 0M538.54 54.74a2.2 2.2 0 1 0 4.4 0a2.2 2.2 0 1 0 -4.4 0M548.37 54.74a2.2 2.2 0 1 0 4.4 0a2.2 2.2 0 1 0 -4.4 0M558.20 54.74a2.2 2.2 0 1 0 4.4 0a2.2 2.2 0 1 0 -4.4 0M568.03 54.74a2.2 2.2 0 1 0 4.4 0a2.2 2.2 0 1 0 -4.4 0M597.53 54.74a2.2 2.2 0 1 0 4.4 0a2.2 2.2 0 1 0 -4.4 0M607.36 54.74a2.2 2.2 0 1 0 4.4 0a2.2 2.2 0 1 0 -4.4 0M617.19 54.74a2.2 2.2 0 1 0 4.4 0a2.2 2.2 0 1 0 -4.4 0M627.02 54.74a2.2 2.2 0 1 0 4.4 0a2.2 2.2 0 1 0 -4.4 0M636.85 54.74a2.2 2.2 0 1 0 4.4 0a2.2 2.2 0 1 0 -4.4 0M646.68 54.74a2.2 2.2 0 1 0 4.4 0a2.2 2.2 0 1 0 -4.4 0M666.35 54.74a2.2 2.2 0 1 0 4.4 0a2.2 2.2 0 1 0 -4.4 0M676.18 54.74a2.2 2.2 0 1 0 4.4 0a2.2 2.2 0 1 0 -4.4 0M686.01 54.74a2.2 2.2 0 1 0 4.4 0a2.2 2.2 0 1 0 -4.4 0M695.84 54.74a2.2 2.2 0 1 0 4.4 0a2.2 2.2 0 1 0 -4.4 0M705.67 54.74a2.2 2.2 0 1 0 4.4 0a2.2 2.2 0 1 0 -4.4 0M715.51 54.74a2.2 2.2 0 1 0 4.4 0a2.2 2.2 0 1 0 -4.4 0M725.34 54.74a2.2 2.2 0 1 0 4.4 0a2.2 2.2 0 1 0 -4.4 0M735.17 54.74a2.2 2.2 0 1 0 4.4 0a2.2 2.2 0 1 0 -4.4 0M745.00 54.74a2.2 2.2 0 1 0 4.4 0a2.2 2.2 0 1 0 -4.4 0M754.83 54.74a2.2 2.2 0 1 0 4.4 0a2.2 2.2 0 1 0 -4.4 0M764.66 54.74a2.2 2.2 0 1 0 4.4 0a2.2 2.2 0 1 0 -4.4 0M774.49 54.74a2.2 2.2 0 1 0 4.4 0a2.2 2.2 0 1 0 -4.4 0M784.33 54.74a2.2 2.2 0 1 0 4.4 0a2.2 2.2 0 1 0 -4.4 0M794.16 54.74a2.2 2.2 0 1 0 4.4 0a2.2 2.2 0 1 0 -4.4 0M803.99 54.74a2.2 2.2 0 1 0 4.4 0a2.2 2.2 0 1 0 -4.4 0M813.82 54.74a2.2 2.2 0 1 0 4.4 0a2.2 2.2 0 1 0 -4.4 0M823.65 54.74a2.2 2.2 0 1 0 4.4 0a2.2 2.2 0 1 0 -4.4 0M833.48 54.74a2.2 2.2 0 1 0 4.4 0a2.2 2.2 0 1 0 -4.4 0M843.32 54.74a2.2 2.2 0 1 0 4.4 0a2.2 2.2 0 1 0 -4.4 0M853.15 54.74a2.2 2.2 0 1 0 4.4 0a2.2 2.2 0 1 0 -4.4 0M862.98 54.74a2.2 2.2 0 1 0 4.4 0a2.2 2.2 0 1 0 -4.4 0M872.81 54.74a2.2 2.2 0 1 0 4.4 0a2.2 2.2 0 1 0 -4.4 0M882.64 54.74a2.2 2.2 0 1 0 4.4 0a2.2 2.2 0 1 0 -4.4 0M892.47 54.74a2.2 2.2 0 1 0 4.4 0a2.2 2.2 0 1 0 -4.4 0M902.31 54.74a2.2 2.2 0 1 0 4.4 0a2.2 2.2 0 1 0 -4.4 0M912.14 54.74a2.2 2.2 0 1 0 4.4 0a2.2 2.2 0 1 0 -4.4 0M921.97 54.74a2.2 2.2 0 1 0 4.4 0a2.2 2.2 0 1 0 -4.4 0M2.72 63.26a2.2 2.2 0 1 0 4.4 0a2.2 2.2 0 1 0 -4.4 0M12.55 63.26a2.2 2.2 0 1 0 4.4 0a2.2 2.2 0 1 0 -4.4 0M32.21 63.26a2.2 2.2 0 1 0 4.4 0a2.2 2.2 0 1 0 -4.4 0M51.87 63.26a2.2 2.2 0 1 0 4.4 0a2.2 2.2 0 1 0 -4.4 0M61.71 63.26a2.2 2.2 0 1 0 4.4 0a2.2 2.2 0 1 0 -4.4 0M71.54 63.26a2.2 2.2 0 1 0 4.4 0a2.2 2.2 0 1 0 -4.4 0M81.37 63.26a2.2 2.2 0 1 0 4.4 0a2.2 2.2 0 1 0 -4.4 0M91.20 63.26a2.2 2.2 0 1 0 4.4 0a2.2 2.2 0 1 0 -4.4 0M101.03 63.26a2.2 2.2 0 1 0 4.4 0a2.2 2.2 0 1 0 -4.4 0M110.86 63.26a2.2 2.2 0 1 0 4.4 0a2.2 2.2 0 1 0 -4.4 0M120.69 63.26a2.2 2.2 0 1 0 4.4 0a2.2 2.2 0 1 0 -4.4 0M130.53 63.26a2.2 2.2 0 1 0 4.4 0a2.2 2.2 0 1 0 -4.4 0M140.36 63.26a2.2 2.2 0 1 0 4.4 0a2.2 2.2 0 1 0 -4.4 0M150.19 63.26a2.2 2.2 0 1 0 4.4 0a2.2 2.2 0 1 0 -4.4 0M160.02 63.26a2.2 2.2 0 1 0 4.4 0a2.2 2.2 0 1 0 -4.4 0M169.85 63.26a2.2 2.2 0 1 0 4.4 0a2.2 2.2 0 1 0 -4.4 0M179.68 63.26a2.2 2.2 0 1 0 4.4 0a2.2 2.2 0 1 0 -4.4 0M189.52 63.26a2.2 2.2 0 1 0 4.4 0a2.2 2.2 0 1 0 -4.4 0M199.35 63.26a2.2 2.2 0 1 0 4.4 0a2.2 2.2 0 1 0 -4.4 0M209.18 63.26a2.2 2.2 0 1 0 4.4 0a2.2 2.2 0 1 0 -4.4 0M219.01 63.26a2.2 2.2 0 1 0 4.4 0a2.2 2.2 0 1 0 -4.4 0M228.84 63.26a2.2 2.2 0 1 0 4.4 0a2.2 2.2 0 1 0 -4.4 0M238.67 63.26a2.2 2.2 0 1 0 4.4 0a2.2 2.2 0 1 0 -4.4 0M278.00 63.26a2.2 2.2 0 1 0 4.4 0a2.2 2.2 0 1 0 -4.4 0M297.66 63.26a2.2 2.2 0 1 0 4.4 0a2.2 2.2 0 1 0 -4.4 0M327.16 63.26a2.2 2.2 0 1 0 4.4 0a2.2 2.2 0 1 0 -4.4 0M336.99 63.26a2.2 2.2 0 1 0 4.4 0a2.2 2.2 0 1 0 -4.4 0M346.82 63.26a2.2 2.2 0 1 0 4.4 0a2.2 2.2 0 1 0 -4.4 0M356.65 63.26a2.2 2.2 0 1 0 4.4 0a2.2 2.2 0 1 0 -4.4 0M366.48 63.26a2.2 2.2 0 1 0 4.4 0a2.2 2.2 0 1 0 -4.4 0M405.81 63.26a2.2 2.2 0 1 0 4.4 0a2.2 2.2 0 1 0 -4.4 0M425.47 63.26a2.2 2.2 0 1 0 4.4 0a2.2 2.2 0 1 0 -4.4 0M504.13 63.26a2.2 2.2 0 1 0 4.4 0a2.2 2.2 0 1 0 -4.4 0M513.96 63.26a2.2 2.2 0 1 0 4.4 0a2.2 2.2 0 1 0 -4.4 0M523.79 63.26a2.2 2.2 0 1 0 4.4 0a2.2 2.2 0 1 0 -4.4 0M533.62 63.26a2.2 2.2 0 1 0 4.4 0a2.2 2.2 0 1 0 -4.4 0M543.45 63.26a2.2 2.2 0 1 0 4.4 0a2.2 2.2 0 1 0 -4.4 0M553.28 63.26a2.2 2.2 0 1 0 4.4 0a2.2 2.2 0 1 0 -4.4 0M563.12 63.26a2.2 2.2 0 1 0 4.4 0a2.2 2.2 0 1 0 -4.4 0M582.78 63.26a2.2 2.2 0 1 0 4.4 0a2.2 2.2 0 1 0 -4.4 0M592.61 63.26a2.2 2.2 0 1 0 4.4 0a2.2 2.2 0 1 0 -4.4 0M602.44 63.26a2.2 2.2 0 1 0 4.4 0a2.2 2.2 0 1 0 -4.4 0M612.27 63.26a2.2 2.2 0 1 0 4.4 0a2.2 2.2 0 1 0 -4.4 0M622.11 63.26a2.2 2.2 0 1 0 4.4 0a2.2 2.2 0 1 0 -4.4 0M631.94 63.26a2.2 2.2 0 1 0 4.4 0a2.2 2.2 0 1 0 -4.4 0M641.77 63.26a2.2 2.2 0 1 0 4.4 0a2.2 2.2 0 1 0 -4.4 0M651.60 63.26a2.2 2.2 0 1 0 4.4 0a2.2 2.2 0 1 0 -4.4 0M661.43 63.26a2.2 2.2 0 1 0 4.4 0a2.2 2.2 0 1 0 -4.4 0M671.26 63.26a2.2 2.2 0 1 0 4.4 0a2.2 2.2 0 1 0 -4.4 0M681.09 63.26a2.2 2.2 0 1 0 4.4 0a2.2 2.2 0 1 0 -4.4 0M690.93 63.26a2.2 2.2 0 1 0 4.4 0a2.2 2.2 0 1 0 -4.4 0M700.76 63.26a2.2 2.2 0 1 0 4.4 0a2.2 2.2 0 1 0 -4.4 0M710.59 63.26a2.2 2.2 0 1 0 4.4 0a2.2 2.2 0 1 0 -4.4 0M720.42 63.26a2.2 2.2 0 1 0 4.4 0a2.2 2.2 0 1 0 -4.4 0M730.25 63.26a2.2 2.2 0 1 0 4.4 0a2.2 2.2 0 1 0 -4.4 0M740.08 63.26a2.2 2.2 0 1 0 4.4 0a2.2 2.2 0 1 0 -4.4 0M749.92 63.26a2.2 2.2 0 1 0 4.4 0a2.2 2.2 0 1 0 -4.4 0M759.75 63.26a2.2 2.2 0 1 0 4.4 0a2.2 2.2 0 1 0 -4.4 0M769.58 63.26a2.2 2.2 0 1 0 4.4 0a2.2 2.2 0 1 0 -4.4 0M779.41 63.26a2.2 2.2 0 1 0 4.4 0a2.2 2.2 0 1 0 -4.4 0M789.24 63.26a2.2 2.2 0 1 0 4.4 0a2.2 2.2 0 1 0 -4.4 0M799.07 63.26a2.2 2.2 0 1 0 4.4 0a2.2 2.2 0 1 0 -4.4 0M808.91 63.26a2.2 2.2 0 1 0 4.4 0a2.2 2.2 0 1 0 -4.4 0M818.74 63.26a2.2 2.2 0 1 0 4.4 0a2.2 2.2 0 1 0 -4.4 0M828.57 63.26a2.2 2.2 0 1 0 4.4 0a2.2 2.2 0 1 0 -4.4 0M838.40 63.26a2.2 2.2 0 1 0 4.4 0a2.2 2.2 0 1 0 -4.4 0M848.23 63.26a2.2 2.2 0 1 0 4.4 0a2.2 2.2 0 1 0 -4.4 0M858.06 63.26a2.2 2.2 0 1 0 4.4 0a2.2 2.2 0 1 0 -4.4 0M867.89 63.26a2.2 2.2 0 1 0 4.4 0a2.2 2.2 0 1 0 -4.4 0M877.73 63.26a2.2 2.2 0 1 0 4.4 0a2.2 2.2 0 1 0 -4.4 0M887.56 63.26a2.2 2.2 0 1 0 4.4 0a2.2 2.2 0 1 0 -4.4 0M897.39 63.26a2.2 2.2 0 1 0 4.4 0a2.2 2.2 0 1 0 -4.4 0M907.22 63.26a2.2 2.2 0 1 0 4.4 0a2.2 2.2 0 1 0 -4.4 0M917.05 63.26a2.2 2.2 0 1 0 4.4 0a2.2 2.2 0 1 0 -4.4 0M926.88 63.26a2.2 2.2 0 1 0 4.4 0a2.2 2.2 0 1 0 -4.4 0M7.63 71.77a2.2 2.2 0 1 0 4.4 0a2.2 2.2 0 1 0 -4.4 0M37.13 71.77a2.2 2.2 0 1 0 4.4 0a2.2 2.2 0 1 0 -4.4 0M46.96 71.77a2.2 2.2 0 1 0 4.4 0a2.2 2.2 0 1 0 -4.4 0M56.79 71.77a2.2 2.2 0 1 0 4.4 0a2.2 2.2 0 1 0 -4.4 0M66.62 71.77a2.2 2.2 0 1 0 4.4 0a2.2 2.2 0 1 0 -4.4 0M76.45 71.77a2.2 2.2 0 1 0 4.4 0a2.2 2.2 0 1 0 -4.4 0M86.28 71.77a2.2 2.2 0 1 0 4.4 0a2.2 2.2 0 1 0 -4.4 0M96.12 71.77a2.2 2.2 0 1 0 4.4 0a2.2 2.2 0 1 0 -4.4 0M105.95 71.77a2.2 2.2 0 1 0 4.4 0a2.2 2.2 0 1 0 -4.4 0M115.78 71.77a2.2 2.2 0 1 0 4.4 0a2.2 2.2 0 1 0 -4.4 0M125.61 71.77a2.2 2.2 0 1 0 4.4 0a2.2 2.2 0 1 0 -4.4 0M135.44 71.77a2.2 2.2 0 1 0 4.4 0a2.2 2.2 0 1 0 -4.4 0M145.27 71.77a2.2 2.2 0 1 0 4.4 0a2.2 2.2 0 1 0 -4.4 0M155.11 71.77a2.2 2.2 0 1 0 4.4 0a2.2 2.2 0 1 0 -4.4 0M164.94 71.77a2.2 2.2 0 1 0 4.4 0a2.2 2.2 0 1 0 -4.4 0M174.77 71.77a2.2 2.2 0 1 0 4.4 0a2.2 2.2 0 1 0 -4.4 0M184.60 71.77a2.2 2.2 0 1 0 4.4 0a2.2 2.2 0 1 0 -4.4 0M194.43 71.77a2.2 2.2 0 1 0 4.4 0a2.2 2.2 0 1 0 -4.4 0M204.26 71.77a2.2 2.2 0 1 0 4.4 0a2.2 2.2 0 1 0 -4.4 0M214.09 71.77a2.2 2.2 0 1 0 4.4 0a2.2 2.2 0 1 0 -4.4 0M223.93 71.77a2.2 2.2 0 1 0 4.4 0a2.2 2.2 0 1 0 -4.4 0M233.76 71.77a2.2 2.2 0 1 0 4.4 0a2.2 2.2 0 1 0 -4.4 0M243.59 71.77a2.2 2.2 0 1 0 4.4 0a2.2 2.2 0 1 0 -4.4 0M263.25 71.77a2.2 2.2 0 1 0 4.4 0a2.2 2.2 0 1 0 -4.4 0M273.08 71.77a2.2 2.2 0 1 0 4.4 0a2.2 2.2 0 1 0 -4.4 0M282.92 71.77a2.2 2.2 0 1 0 4.4 0a2.2 2.2 0 1 0 -4.4 0M332.07 71.77a2.2 2.2 0 1 0 4.4 0a2.2 2.2 0 1 0 -4.4 0M341.91 71.77a2.2 2.2 0 1 0 4.4 0a2.2 2.2 0 1 0 -4.4 0M351.74 71.77a2.2 2.2 0 1 0 4.4 0a2.2 2.2 0 1 0 -4.4 0M410.73 71.77a2.2 2.2 0 1 0 4.4 0a2.2 2.2 0 1 0 -4.4 0M420.56 71.77a2.2 2.2 0 1 0 4.4 0a2.2 2.2 0 1 0 -4.4 0M499.21 71.77a2.2 2.2 0 1 0 4.4 0a2.2 2.2 0 1 0 -4.4 0M509.04 71.77a2.2 2.2 0 1 0 4.4 0a2.2 2.2 0 1 0 -4.4 0M518.87 71.77a2.2 2.2 0 1 0 4.4 0a2.2 2.2 0 1 0 -4.4 0M538.54 71.77a2.2 2.2 0 1 0 4.4 0a2.2 2.2 0 1 0 -4.4 0M548.37 71.77a2.2 2.2 0 1 0 4.4 0a2.2 2.2 0 1 0 -4.4 0M577.86 71.77a2.2 2.2 0 1 0 4.4 0a2.2 2.2 0 1 0 -4.4 0M587.69 71.77a2.2 2.2 0 1 0 4.4 0a2.2 2.2 0 1 0 -4.4 0M597.53 71.77a2.2 2.2 0 1 0 4.4 0a2.2 2.2 0 1 0 -4.4 0M607.36 71.77a2.2 2.2 0 1 0 4.4 0a2.2 2.2 0 1 0 -4.4 0M617.19 71.77a2.2 2.2 0 1 0 4.4 0a2.2 2.2 0 1 0 -4.4 0M627.02 71.77a2.2 2.2 0 1 0 4.4 0a2.2 2.2 0 1 0 -4.4 0M636.85 71.77a2.2 2.2 0 1 0 4.4 0a2.2 2.2 0 1 0 -4.4 0M646.68 71.77a2.2 2.2 0 1 0 4.4 0a2.2 2.2 0 1 0 -4.4 0M656.52 71.77a2.2 2.2 0 1 0 4.4 0a2.2 2.2 0 1 0 -4.4 0M666.35 71.77a2.2 2.2 0 1 0 4.4 0a2.2 2.2 0 1 0 -4.4 0M676.18 71.77a2.2 2.2 0 1 0 4.4 0a2.2 2.2 0 1 0 -4.4 0M686.01 71.77a2.2 2.2 0 1 0 4.4 0a2.2 2.2 0 1 0 -4.4 0M695.84 71.77a2.2 2.2 0 1 0 4.4 0a2.2 2.2 0 1 0 -4.4 0M705.67 71.77a2.2 2.2 0 1 0 4.4 0a2.2 2.2 0 1 0 -4.4 0M715.51 71.77a2.2 2.2 0 1 0 4.4 0a2.2 2.2 0 1 0 -4.4 0M725.34 71.77a2.2 2.2 0 1 0 4.4 0a2.2 2.2 0 1 0 -4.4 0M735.17 71.77a2.2 2.2 0 1 0 4.4 0a2.2 2.2 0 1 0 -4.4 0M745.00 71.77a2.2 2.2 0 1 0 4.4 0a2.2 2.2 0 1 0 -4.4 0M754.83 71.77a2.2 2.2 0 1 0 4.4 0a2.2 2.2 0 1 0 -4.4 0M764.66 71.77a2.2 2.2 0 1 0 4.4 0a2.2 2.2 0 1 0 -4.4 0M774.49 71.77a2.2 2.2 0 1 0 4.4 0a2.2 2.2 0 1 0 -4.4 0M784.33 71.77a2.2 2.2 0 1 0 4.4 0a2.2 2.2 0 1 0 -4.4 0M794.16 71.77a2.2 2.2 0 1 0 4.4 0a2.2 2.2 0 1 0 -4.4 0M803.99 71.77a2.2 2.2 0 1 0 4.4 0a2.2 2.2 0 1 0 -4.4 0M813.82 71.77a2.2 2.2 0 1 0 4.4 0a2.2 2.2 0 1 0 -4.4 0M823.65 71.77a2.2 2.2 0 1 0 4.4 0a2.2 2.2 0 1 0 -4.4 0M833.48 71.77a2.2 2.2 0 1 0 4.4 0a2.2 2.2 0 1 0 -4.4 0M843.32 71.77a2.2 2.2 0 1 0 4.4 0a2.2 2.2 0 1 0 -4.4 0M853.15 71.77a2.2 2.2 0 1 0 4.4 0a2.2 2.2 0 1 0 -4.4 0M862.98 71.77a2.2 2.2 0 1 0 4.4 0a2.2 2.2 0 1 0 -4.4 0M872.81 71.77a2.2 2.2 0 1 0 4.4 0a2.2 2.2 0 1 0 -4.4 0M882.64 71.77a2.2 2.2 0 1 0 4.4 0a2.2 2.2 0 1 0 -4.4 0M892.47 71.77a2.2 2.2 0 1 0 4.4 0a2.2 2.2 0 1 0 -4.4 0M902.31 71.77a2.2 2.2 0 1 0 4.4 0a2.2 2.2 0 1 0 -4.4 0M912.14 71.77a2.2 2.2 0 1 0 4.4 0a2.2 2.2 0 1 0 -4.4 0M921.97 71.77a2.2 2.2 0 1 0 4.4 0a2.2 2.2 0 1 0 -4.4 0M42.04 80.29a2.2 2.2 0 1 0 4.4 0a2.2 2.2 0 1 0 -4.4 0M51.87 80.29a2.2 2.2 0 1 0 4.4 0a2.2 2.2 0 1 0 -4.4 0M61.71 80.29a2.2 2.2 0 1 0 4.4 0a2.2 2.2 0 1 0 -4.4 0M71.54 80.29a2.2 2.2 0 1 0 4.4 0a2.2 2.2 0 1 0 -4.4 0M81.37 80.29a2.2 2.2 0 1 0 4.4 0a2.2 2.2 0 1 0 -4.4 0M91.20 80.29a2.2 2.2 0 1 0 4.4 0a2.2 2.2 0 1 0 -4.4 0M101.03 80.29a2.2 2.2 0 1 0 4.4 0a2.2 2.2 0 1 0 -4.4 0M110.86 80.29a2.2 2.2 0 1 0 4.4 0a2.2 2.2 0 1 0 -4.4 0M120.69 80.29a2.2 2.2 0 1 0 4.4 0a2.2 2.2 0 1 0 -4.4 0M130.53 80.29a2.2 2.2 0 1 0 4.4 0a2.2 2.2 0 1 0 -4.4 0M140.36 80.29a2.2 2.2 0 1 0 4.4 0a2.2 2.2 0 1 0 -4.4 0M150.19 80.29a2.2 2.2 0 1 0 4.4 0a2.2 2.2 0 1 0 -4.4 0M160.02 80.29a2.2 2.2 0 1 0 4.4 0a2.2 2.2 0 1 0 -4.4 0M169.85 80.29a2.2 2.2 0 1 0 4.4 0a2.2 2.2 0 1 0 -4.4 0M179.68 80.29a2.2 2.2 0 1 0 4.4 0a2.2 2.2 0 1 0 -4.4 0M189.52 80.29a2.2 2.2 0 1 0 4.4 0a2.2 2.2 0 1 0 -4.4 0M199.35 80.29a2.2 2.2 0 1 0 4.4 0a2.2 2.2 0 1 0 -4.4 0M209.18 80.29a2.2 2.2 0 1 0 4.4 0a2.2 2.2 0 1 0 -4.4 0M219.01 80.29a2.2 2.2 0 1 0 4.4 0a2.2 2.2 0 1 0 -4.4 0M278.00 80.29a2.2 2.2 0 1 0 4.4 0a2.2 2.2 0 1 0 -4.4 0M287.83 80.29a2.2 2.2 0 1 0 4.4 0a2.2 2.2 0 1 0 -4.4 0M336.99 80.29a2.2 2.2 0 1 0 4.4 0a2.2 2.2 0 1 0 -4.4 0M346.82 80.29a2.2 2.2 0 1 0 4.4 0a2.2 2.2 0 1 0 -4.4 0M356.65 80.29a2.2 2.2 0 1 0 4.4 0a2.2 2.2 0 1 0 -4.4 0M494.29 80.29a2.2 2.2 0 1 0 4.4 0a2.2 2.2 0 1 0 -4.4 0M504.13 80.29a2.2 2.2 0 1 0 4.4 0a2.2 2.2 0 1 0 -4.4 0M513.96 80.29a2.2 2.2 0 1 0 4.4 0a2.2 2.2 0 1 0 -4.4 0M523.79 80.29a2.2 2.2 0 1 0 4.4 0a2.2 2.2 0 1 0 -4.4 0M533.62 80.29a2.2 2.2 0 1 0 4.4 0a2.2 2.2 0 1 0 -4.4 0M543.45 80.29a2.2 2.2 0 1 0 4.4 0a2.2 2.2 0 1 0 -4.4 0M553.28 80.29a2.2 2.2 0 1 0 4.4 0a2.2 2.2 0 1 0 -4.4 0M563.12 80.29a2.2 2.2 0 1 0 4.4 0a2.2 2.2 0 1 0 -4.4 0M572.95 80.29a2.2 2.2 0 1 0 4.4 0a2.2 2.2 0 1 0 -4.4 0M582.78 80.29a2.2 2.2 0 1 0 4.4 0a2.2 2.2 0 1 0 -4.4 0M592.61 80.29a2.2 2.2 0 1 0 4.4 0a2.2 2.2 0 1 0 -4.4 0M602.44 80.29a2.2 2.2 0 1 0 4.4 0a2.2 2.2 0 1 0 -4.4 0M612.27 80.29a2.2 2.2 0 1 0 4.4 0a2.2 2.2 0 1 0 -4.4 0M622.11 80.29a2.2 2.2 0 1 0 4.4 0a2.2 2.2 0 1 0 -4.4 0M631.94 80.29a2.2 2.2 0 1 0 4.4 0a2.2 2.2 0 1 0 -4.4 0M641.77 80.29a2.2 2.2 0 1 0 4.4 0a2.2 2.2 0 1 0 -4.4 0M651.60 80.29a2.2 2.2 0 1 0 4.4 0a2.2 2.2 0 1 0 -4.4 0M661.43 80.29a2.2 2.2 0 1 0 4.4 0a2.2 2.2 0 1 0 -4.4 0M671.26 80.29a2.2 2.2 0 1 0 4.4 0a2.2 2.2 0 1 0 -4.4 0M681.09 80.29a2.2 2.2 0 1 0 4.4 0a2.2 2.2 0 1 0 -4.4 0M690.93 80.29a2.2 2.2 0 1 0 4.4 0a2.2 2.2 0 1 0 -4.4 0M700.76 80.29a2.2 2.2 0 1 0 4.4 0a2.2 2.2 0 1 0 -4.4 0M710.59 80.29a2.2 2.2 0 1 0 4.4 0a2.2 2.2 0 1 0 -4.4 0M720.42 80.29a2.2 2.2 0 1 0 4.4 0a2.2 2.2 0 1 0 -4.4 0M730.25 80.29a2.2 2.2 0 1 0 4.4 0a2.2 2.2 0 1 0 -4.4 0M740.08 80.29a2.2 2.2 0 1 0 4.4 0a2.2 2.2 0 1 0 -4.4 0M749.92 80.29a2.2 2.2 0 1 0 4.4 0a2.2 2.2 0 1 0 -4.4 0M759.75 80.29a2.2 2.2 0 1 0 4.4 0a2.2 2.2 0 1 0 -4.4 0M769.58 80.29a2.2 2.2 0 1 0 4.4 0a2.2 2.2 0 1 0 -4.4 0M779.41 80.29a2.2 2.2 0 1 0 4.4 0a2.2 2.2 0 1 0 -4.4 0M789.24 80.29a2.2 2.2 0 1 0 4.4 0a2.2 2.2 0 1 0 -4.4 0M799.07 80.29a2.2 2.2 0 1 0 4.4 0a2.2 2.2 0 1 0 -4.4 0M808.91 80.29a2.2 2.2 0 1 0 4.4 0a2.2 2.2 0 1 0 -4.4 0M818.74 80.29a2.2 2.2 0 1 0 4.4 0a2.2 2.2 0 1 0 -4.4 0M828.57 80.29a2.2 2.2 0 1 0 4.4 0a2.2 2.2 0 1 0 -4.4 0M838.40 80.29a2.2 2.2 0 1 0 4.4 0a2.2 2.2 0 1 0 -4.4 0M848.23 80.29a2.2 2.2 0 1 0 4.4 0a2.2 2.2 0 1 0 -4.4 0M858.06 80.29a2.2 2.2 0 1 0 4.4 0a2.2 2.2 0 1 0 -4.4 0M867.89 80.29a2.2 2.2 0 1 0 4.4 0a2.2 2.2 0 1 0 -4.4 0M877.73 80.29a2.2 2.2 0 1 0 4.4 0a2.2 2.2 0 1 0 -4.4 0M887.56 80.29a2.2 2.2 0 1 0 4.4 0a2.2 2.2 0 1 0 -4.4 0M897.39 80.29a2.2 2.2 0 1 0 4.4 0a2.2 2.2 0 1 0 -4.4 0M907.22 80.29a2.2 2.2 0 1 0 4.4 0a2.2 2.2 0 1 0 -4.4 0M917.05 80.29a2.2 2.2 0 1 0 4.4 0a2.2 2.2 0 1 0 -4.4 0M926.88 80.29a2.2 2.2 0 1 0 4.4 0a2.2 2.2 0 1 0 -4.4 0M37.13 88.80a2.2 2.2 0 1 0 4.4 0a2.2 2.2 0 1 0 -4.4 0M46.96 88.80a2.2 2.2 0 1 0 4.4 0a2.2 2.2 0 1 0 -4.4 0M56.79 88.80a2.2 2.2 0 1 0 4.4 0a2.2 2.2 0 1 0 -4.4 0M66.62 88.80a2.2 2.2 0 1 0 4.4 0a2.2 2.2 0 1 0 -4.4 0M76.45 88.80a2.2 2.2 0 1 0 4.4 0a2.2 2.2 0 1 0 -4.4 0M86.28 88.80a2.2 2.2 0 1 0 4.4 0a2.2 2.2 0 1 0 -4.4 0M96.12 88.80a2.2 2.2 0 1 0 4.4 0a2.2 2.2 0 1 0 -4.4 0M105.95 88.80a2.2 2.2 0 1 0 4.4 0a2.2 2.2 0 1 0 -4.4 0M115.78 88.80a2.2 2.2 0 1 0 4.4 0a2.2 2.2 0 1 0 -4.4 0M125.61 88.80a2.2 2.2 0 1 0 4.4 0a2.2 2.2 0 1 0 -4.4 0M135.44 88.80a2.2 2.2 0 1 0 4.4 0a2.2 2.2 0 1 0 -4.4 0M145.27 88.80a2.2 2.2 0 1 0 4.4 0a2.2 2.2 0 1 0 -4.4 0M155.11 88.80a2.2 2.2 0 1 0 4.4 0a2.2 2.2 0 1 0 -4.4 0M164.94 88.80a2.2 2.2 0 1 0 4.4 0a2.2 2.2 0 1 0 -4.4 0M174.77 88.80a2.2 2.2 0 1 0 4.4 0a2.2 2.2 0 1 0 -4.4 0M184.60 88.80a2.2 2.2 0 1 0 4.4 0a2.2 2.2 0 1 0 -4.4 0M194.43 88.80a2.2 2.2 0 1 0 4.4 0a2.2 2.2 0 1 0 -4.4 0M204.26 88.80a2.2 2.2 0 1 0 4.4 0a2.2 2.2 0 1 0 -4.4 0M214.09 88.80a2.2 2.2 0 1 0 4.4 0a2.2 2.2 0 1 0 -4.4 0M263.25 88.80a2.2 2.2 0 1 0 4.4 0a2.2 2.2 0 1 0 -4.4 0M273.08 88.80a2.2 2.2 0 1 0 4.4 0a2.2 2.2 0 1 0 -4.4 0M341.91 88.80a2.2 2.2 0 1 0 4.4 0a2.2 2.2 0 1 0 -4.4 0M351.74 88.80a2.2 2.2 0 1 0 4.4 0a2.2 2.2 0 1 0 -4.4 0M479.55 88.80a2.2 2.2 0 1 0 4.4 0a2.2 2.2 0 1 0 -4.4 0M489.38 88.80a2.2 2.2 0 1 0 4.4 0a2.2 2.2 0 1 0 -4.4 0M499.21 88.80a2.2 2.2 0 1 0 4.4 0a2.2 2.2 0 1 0 -4.4 0M509.04 88.80a2.2 2.2 0 1 0 4.4 0a2.2 2.2 0 1 0 -4.4 0M528.71 88.80a2.2 2.2 0 1 0 4.4 0a2.2 2.2 0 1 0 -4.4 0M538.54 88.80a2.2 2.2 0 1 0 4.4 0a2.2 2.2 0 1 0 -4.4 0M548.37 88.80a2.2 2.2 0 1 0 4.4 0a2.2 2.2 0 1 0 -4.4 0M558.20 88.80a2.2 2.2 0 1 0 4.4 0a2.2 2.2 0 1 0 -4.4 0M568.03 88.80a2.2 2.2 0 1 0 4.4 0a2.2 2.2 0 1 0 -4.4 0M577.86 88.80a2.2 2.2 0 1 0 4.4 0a2.2 2.2 0 1 0 -4.4 0M587.69 88.80a2.2 2.2 0 1 0 4.4 0a2.2 2.2 0 1 0 -4.4 0M597.53 88.80a2.2 2.2 0 1 0 4.4 0a2.2 2.2 0 1 0 -4.4 0M607.36 88.80a2.2 2.2 0 1 0 4.4 0a2.2 2.2 0 1 0 -4.4 0M617.19 88.80a2.2 2.2 0 1 0 4.4 0a2.2 2.2 0 1 0 -4.4 0M627.02 88.80a2.2 2.2 0 1 0 4.4 0a2.2 2.2 0 1 0 -4.4 0M636.85 88.80a2.2 2.2 0 1 0 4.4 0a2.2 2.2 0 1 0 -4.4 0M646.68 88.80a2.2 2.2 0 1 0 4.4 0a2.2 2.2 0 1 0 -4.4 0M656.52 88.80a2.2 2.2 0 1 0 4.4 0a2.2 2.2 0 1 0 -4.4 0M666.35 88.80a2.2 2.2 0 1 0 4.4 0a2.2 2.2 0 1 0 -4.4 0M676.18 88.80a2.2 2.2 0 1 0 4.4 0a2.2 2.2 0 1 0 -4.4 0M686.01 88.80a2.2 2.2 0 1 0 4.4 0a2.2 2.2 0 1 0 -4.4 0M695.84 88.80a2.2 2.2 0 1 0 4.4 0a2.2 2.2 0 1 0 -4.4 0M705.67 88.80a2.2 2.2 0 1 0 4.4 0a2.2 2.2 0 1 0 -4.4 0M715.51 88.80a2.2 2.2 0 1 0 4.4 0a2.2 2.2 0 1 0 -4.4 0M725.34 88.80a2.2 2.2 0 1 0 4.4 0a2.2 2.2 0 1 0 -4.4 0M735.17 88.80a2.2 2.2 0 1 0 4.4 0a2.2 2.2 0 1 0 -4.4 0M745.00 88.80a2.2 2.2 0 1 0 4.4 0a2.2 2.2 0 1 0 -4.4 0M754.83 88.80a2.2 2.2 0 1 0 4.4 0a2.2 2.2 0 1 0 -4.4 0M764.66 88.80a2.2 2.2 0 1 0 4.4 0a2.2 2.2 0 1 0 -4.4 0M774.49 88.80a2.2 2.2 0 1 0 4.4 0a2.2 2.2 0 1 0 -4.4 0M784.33 88.80a2.2 2.2 0 1 0 4.4 0a2.2 2.2 0 1 0 -4.4 0M794.16 88.80a2.2 2.2 0 1 0 4.4 0a2.2 2.2 0 1 0 -4.4 0M803.99 88.80a2.2 2.2 0 1 0 4.4 0a2.2 2.2 0 1 0 -4.4 0M813.82 88.80a2.2 2.2 0 1 0 4.4 0a2.2 2.2 0 1 0 -4.4 0M823.65 88.80a2.2 2.2 0 1 0 4.4 0a2.2 2.2 0 1 0 -4.4 0M833.48 88.80a2.2 2.2 0 1 0 4.4 0a2.2 2.2 0 1 0 -4.4 0M843.32 88.80a2.2 2.2 0 1 0 4.4 0a2.2 2.2 0 1 0 -4.4 0M853.15 88.80a2.2 2.2 0 1 0 4.4 0a2.2 2.2 0 1 0 -4.4 0M862.98 88.80a2.2 2.2 0 1 0 4.4 0a2.2 2.2 0 1 0 -4.4 0M872.81 88.80a2.2 2.2 0 1 0 4.4 0a2.2 2.2 0 1 0 -4.4 0M882.64 88.80a2.2 2.2 0 1 0 4.4 0a2.2 2.2 0 1 0 -4.4 0M902.31 88.80a2.2 2.2 0 1 0 4.4 0a2.2 2.2 0 1 0 -4.4 0M912.14 88.80a2.2 2.2 0 1 0 4.4 0a2.2 2.2 0 1 0 -4.4 0M921.97 88.80a2.2 2.2 0 1 0 4.4 0a2.2 2.2 0 1 0 -4.4 0M42.04 97.32a2.2 2.2 0 1 0 4.4 0a2.2 2.2 0 1 0 -4.4 0M51.87 97.32a2.2 2.2 0 1 0 4.4 0a2.2 2.2 0 1 0 -4.4 0M61.71 97.32a2.2 2.2 0 1 0 4.4 0a2.2 2.2 0 1 0 -4.4 0M71.54 97.32a2.2 2.2 0 1 0 4.4 0a2.2 2.2 0 1 0 -4.4 0M91.20 97.32a2.2 2.2 0 1 0 4.4 0a2.2 2.2 0 1 0 -4.4 0M101.03 97.32a2.2 2.2 0 1 0 4.4 0a2.2 2.2 0 1 0 -4.4 0M110.86 97.32a2.2 2.2 0 1 0 4.4 0a2.2 2.2 0 1 0 -4.4 0M120.69 97.32a2.2 2.2 0 1 0 4.4 0a2.2 2.2 0 1 0 -4.4 0M130.53 97.32a2.2 2.2 0 1 0 4.4 0a2.2 2.2 0 1 0 -4.4 0M140.36 97.32a2.2 2.2 0 1 0 4.4 0a2.2 2.2 0 1 0 -4.4 0M150.19 97.32a2.2 2.2 0 1 0 4.4 0a2.2 2.2 0 1 0 -4.4 0M160.02 97.32a2.2 2.2 0 1 0 4.4 0a2.2 2.2 0 1 0 -4.4 0M169.85 97.32a2.2 2.2 0 1 0 4.4 0a2.2 2.2 0 1 0 -4.4 0M179.68 97.32a2.2 2.2 0 1 0 4.4 0a2.2 2.2 0 1 0 -4.4 0M189.52 97.32a2.2 2.2 0 1 0 4.4 0a2.2 2.2 0 1 0 -4.4 0M199.35 97.32a2.2 2.2 0 1 0 4.4 0a2.2 2.2 0 1 0 -4.4 0M209.18 97.32a2.2 2.2 0 1 0 4.4 0a2.2 2.2 0 1 0 -4.4 0M268.17 97.32a2.2 2.2 0 1 0 4.4 0a2.2 2.2 0 1 0 -4.4 0M278.00 97.32a2.2 2.2 0 1 0 4.4 0a2.2 2.2 0 1 0 -4.4 0M346.82 97.32a2.2 2.2 0 1 0 4.4 0a2.2 2.2 0 1 0 -4.4 0M484.46 97.32a2.2 2.2 0 1 0 4.4 0a2.2 2.2 0 1 0 -4.4 0M494.29 97.32a2.2 2.2 0 1 0 4.4 0a2.2 2.2 0 1 0 -4.4 0M504.13 97.32a2.2 2.2 0 1 0 4.4 0a2.2 2.2 0 1 0 -4.4 0M523.79 97.32a2.2 2.2 0 1 0 4.4 0a2.2 2.2 0 1 0 -4.4 0M543.45 97.32a2.2 2.2 0 1 0 4.4 0a2.2 2.2 0 1 0 -4.4 0M553.28 97.32a2.2 2.2 0 1 0 4.4 0a2.2 2.2 0 1 0 -4.4 0M563.12 97.32a2.2 2.2 0 1 0 4.4 0a2.2 2.2 0 1 0 -4.4 0M572.95 97.32a2.2 2.2 0 1 0 4.4 0a2.2 2.2 0 1 0 -4.4 0M582.78 97.32a2.2 2.2 0 1 0 4.4 0a2.2 2.2 0 1 0 -4.4 0M592.61 97.32a2.2 2.2 0 1 0 4.4 0a2.2 2.2 0 1 0 -4.4 0M602.44 97.32a2.2 2.2 0 1 0 4.4 0a2.2 2.2 0 1 0 -4.4 0M612.27 97.32a2.2 2.2 0 1 0 4.4 0a2.2 2.2 0 1 0 -4.4 0M622.11 97.32a2.2 2.2 0 1 0 4.4 0a2.2 2.2 0 1 0 -4.4 0M631.94 97.32a2.2 2.2 0 1 0 4.4 0a2.2 2.2 0 1 0 -4.4 0M641.77 97.32a2.2 2.2 0 1 0 4.4 0a2.2 2.2 0 1 0 -4.4 0M651.60 97.32a2.2 2.2 0 1 0 4.4 0a2.2 2.2 0 1 0 -4.4 0M661.43 97.32a2.2 2.2 0 1 0 4.4 0a2.2 2.2 0 1 0 -4.4 0M671.26 97.32a2.2 2.2 0 1 0 4.4 0a2.2 2.2 0 1 0 -4.4 0M681.09 97.32a2.2 2.2 0 1 0 4.4 0a2.2 2.2 0 1 0 -4.4 0M690.93 97.32a2.2 2.2 0 1 0 4.4 0a2.2 2.2 0 1 0 -4.4 0M700.76 97.32a2.2 2.2 0 1 0 4.4 0a2.2 2.2 0 1 0 -4.4 0M710.59 97.32a2.2 2.2 0 1 0 4.4 0a2.2 2.2 0 1 0 -4.4 0M720.42 97.32a2.2 2.2 0 1 0 4.4 0a2.2 2.2 0 1 0 -4.4 0M730.25 97.32a2.2 2.2 0 1 0 4.4 0a2.2 2.2 0 1 0 -4.4 0M740.08 97.32a2.2 2.2 0 1 0 4.4 0a2.2 2.2 0 1 0 -4.4 0M749.92 97.32a2.2 2.2 0 1 0 4.4 0a2.2 2.2 0 1 0 -4.4 0M759.75 97.32a2.2 2.2 0 1 0 4.4 0a2.2 2.2 0 1 0 -4.4 0M769.58 97.32a2.2 2.2 0 1 0 4.4 0a2.2 2.2 0 1 0 -4.4 0M779.41 97.32a2.2 2.2 0 1 0 4.4 0a2.2 2.2 0 1 0 -4.4 0M789.24 97.32a2.2 2.2 0 1 0 4.4 0a2.2 2.2 0 1 0 -4.4 0M799.07 97.32a2.2 2.2 0 1 0 4.4 0a2.2 2.2 0 1 0 -4.4 0M808.91 97.32a2.2 2.2 0 1 0 4.4 0a2.2 2.2 0 1 0 -4.4 0M818.74 97.32a2.2 2.2 0 1 0 4.4 0a2.2 2.2 0 1 0 -4.4 0M828.57 97.32a2.2 2.2 0 1 0 4.4 0a2.2 2.2 0 1 0 -4.4 0M838.40 97.32a2.2 2.2 0 1 0 4.4 0a2.2 2.2 0 1 0 -4.4 0M848.23 97.32a2.2 2.2 0 1 0 4.4 0a2.2 2.2 0 1 0 -4.4 0M858.06 97.32a2.2 2.2 0 1 0 4.4 0a2.2 2.2 0 1 0 -4.4 0M867.89 97.32a2.2 2.2 0 1 0 4.4 0a2.2 2.2 0 1 0 -4.4 0M887.56 97.32a2.2 2.2 0 1 0 4.4 0a2.2 2.2 0 1 0 -4.4 0M897.39 97.32a2.2 2.2 0 1 0 4.4 0a2.2 2.2 0 1 0 -4.4 0M907.22 97.32a2.2 2.2 0 1 0 4.4 0a2.2 2.2 0 1 0 -4.4 0M56.79 105.83a2.2 2.2 0 1 0 4.4 0a2.2 2.2 0 1 0 -4.4 0M105.95 105.83a2.2 2.2 0 1 0 4.4 0a2.2 2.2 0 1 0 -4.4 0M115.78 105.83a2.2 2.2 0 1 0 4.4 0a2.2 2.2 0 1 0 -4.4 0M125.61 105.83a2.2 2.2 0 1 0 4.4 0a2.2 2.2 0 1 0 -4.4 0M135.44 105.83a2.2 2.2 0 1 0 4.4 0a2.2 2.2 0 1 0 -4.4 0M145.27 105.83a2.2 2.2 0 1 0 4.4 0a2.2 2.2 0 1 0 -4.4 0M155.11 105.83a2.2 2.2 0 1 0 4.4 0a2.2 2.2 0 1 0 -4.4 0M164.94 105.83a2.2 2.2 0 1 0 4.4 0a2.2 2.2 0 1 0 -4.4 0M174.77 105.83a2.2 2.2 0 1 0 4.4 0a2.2 2.2 0 1 0 -4.4 0M184.60 105.83a2.2 2.2 0 1 0 4.4 0a2.2 2.2 0 1 0 -4.4 0M194.43 105.83a2.2 2.2 0 1 0 4.4 0a2.2 2.2 0 1 0 -4.4 0M204.26 105.83a2.2 2.2 0 1 0 4.4 0a2.2 2.2 0 1 0 -4.4 0M214.09 105.83a2.2 2.2 0 1 0 4.4 0a2.2 2.2 0 1 0 -4.4 0M263.25 105.83a2.2 2.2 0 1 0 4.4 0a2.2 2.2 0 1 0 -4.4 0M273.08 105.83a2.2 2.2 0 1 0 4.4 0a2.2 2.2 0 1 0 -4.4 0M282.92 105.83a2.2 2.2 0 1 0 4.4 0a2.2 2.2 0 1 0 -4.4 0M292.75 105.83a2.2 2.2 0 1 0 4.4 0a2.2 2.2 0 1 0 -4.4 0M479.55 105.83a2.2 2.2 0 1 0 4.4 0a2.2 2.2 0 1 0 -4.4 0M499.21 105.83a2.2 2.2 0 1 0 4.4 0a2.2 2.2 0 1 0 -4.4 0M528.71 105.83a2.2 2.2 0 1 0 4.4 0a2.2 2.2 0 1 0 -4.4 0M538.54 105.83a2.2 2.2 0 1 0 4.4 0a2.2 2.2 0 1 0 -4.4 0M548.37 105.83a2.2 2.2 0 1 0 4.4 0a2.2 2.2 0 1 0 -4.4 0M558.20 105.83a2.2 2.2 0 1 0 4.4 0a2.2 2.2 0 1 0 -4.4 0M568.03 105.83a2.2 2.2 0 1 0 4.4 0a2.2 2.2 0 1 0 -4.4 0M577.86 105.83a2.2 2.2 0 1 0 4.4 0a2.2 2.2 0 1 0 -4.4 0M587.69 105.83a2.2 2.2 0 1 0 4.4 0a2.2 2.2 0 1 0 -4.4 0M597.53 105.83a2.2 2.2 0 1 0 4.4 0a2.2 2.2 0 1 0 -4.4 0M607.36 105.83a2.2 2.2 0 1 0 4.4 0a2.2 2.2 0 1 0 -4.4 0M617.19 105.83a2.2 2.2 0 1 0 4.4 0a2.2 2.2 0 1 0 -4.4 0M627.02 105.83a2.2 2.2 0 1 0 4.4 0a2.2 2.2 0 1 0 -4.4 0M636.85 105.83a2.2 2.2 0 1 0 4.4 0a2.2 2.2 0 1 0 -4.4 0M646.68 105.83a2.2 2.2 0 1 0 4.4 0a2.2 2.2 0 1 0 -4.4 0M656.52 105.83a2.2 2.2 0 1 0 4.4 0a2.2 2.2 0 1 0 -4.4 0M666.35 105.83a2.2 2.2 0 1 0 4.4 0a2.2 2.2 0 1 0 -4.4 0M676.18 105.83a2.2 2.2 0 1 0 4.4 0a2.2 2.2 0 1 0 -4.4 0M686.01 105.83a2.2 2.2 0 1 0 4.4 0a2.2 2.2 0 1 0 -4.4 0M695.84 105.83a2.2 2.2 0 1 0 4.4 0a2.2 2.2 0 1 0 -4.4 0M705.67 105.83a2.2 2.2 0 1 0 4.4 0a2.2 2.2 0 1 0 -4.4 0M715.51 105.83a2.2 2.2 0 1 0 4.4 0a2.2 2.2 0 1 0 -4.4 0M725.34 105.83a2.2 2.2 0 1 0 4.4 0a2.2 2.2 0 1 0 -4.4 0M735.17 105.83a2.2 2.2 0 1 0 4.4 0a2.2 2.2 0 1 0 -4.4 0M745.00 105.83a2.2 2.2 0 1 0 4.4 0a2.2 2.2 0 1 0 -4.4 0M754.83 105.83a2.2 2.2 0 1 0 4.4 0a2.2 2.2 0 1 0 -4.4 0M764.66 105.83a2.2 2.2 0 1 0 4.4 0a2.2 2.2 0 1 0 -4.4 0M774.49 105.83a2.2 2.2 0 1 0 4.4 0a2.2 2.2 0 1 0 -4.4 0M784.33 105.83a2.2 2.2 0 1 0 4.4 0a2.2 2.2 0 1 0 -4.4 0M794.16 105.83a2.2 2.2 0 1 0 4.4 0a2.2 2.2 0 1 0 -4.4 0M803.99 105.83a2.2 2.2 0 1 0 4.4 0a2.2 2.2 0 1 0 -4.4 0M813.82 105.83a2.2 2.2 0 1 0 4.4 0a2.2 2.2 0 1 0 -4.4 0M823.65 105.83a2.2 2.2 0 1 0 4.4 0a2.2 2.2 0 1 0 -4.4 0M833.48 105.83a2.2 2.2 0 1 0 4.4 0a2.2 2.2 0 1 0 -4.4 0M882.64 105.83a2.2 2.2 0 1 0 4.4 0a2.2 2.2 0 1 0 -4.4 0M51.87 114.34a2.2 2.2 0 1 0 4.4 0a2.2 2.2 0 1 0 -4.4 0M120.69 114.34a2.2 2.2 0 1 0 4.4 0a2.2 2.2 0 1 0 -4.4 0M130.53 114.34a2.2 2.2 0 1 0 4.4 0a2.2 2.2 0 1 0 -4.4 0M140.36 114.34a2.2 2.2 0 1 0 4.4 0a2.2 2.2 0 1 0 -4.4 0M150.19 114.34a2.2 2.2 0 1 0 4.4 0a2.2 2.2 0 1 0 -4.4 0M160.02 114.34a2.2 2.2 0 1 0 4.4 0a2.2 2.2 0 1 0 -4.4 0M169.85 114.34a2.2 2.2 0 1 0 4.4 0a2.2 2.2 0 1 0 -4.4 0M179.68 114.34a2.2 2.2 0 1 0 4.4 0a2.2 2.2 0 1 0 -4.4 0M189.52 114.34a2.2 2.2 0 1 0 4.4 0a2.2 2.2 0 1 0 -4.4 0M199.35 114.34a2.2 2.2 0 1 0 4.4 0a2.2 2.2 0 1 0 -4.4 0M209.18 114.34a2.2 2.2 0 1 0 4.4 0a2.2 2.2 0 1 0 -4.4 0M219.01 114.34a2.2 2.2 0 1 0 4.4 0a2.2 2.2 0 1 0 -4.4 0M228.84 114.34a2.2 2.2 0 1 0 4.4 0a2.2 2.2 0 1 0 -4.4 0M268.17 114.34a2.2 2.2 0 1 0 4.4 0a2.2 2.2 0 1 0 -4.4 0M278.00 114.34a2.2 2.2 0 1 0 4.4 0a2.2 2.2 0 1 0 -4.4 0M287.83 114.34a2.2 2.2 0 1 0 4.4 0a2.2 2.2 0 1 0 -4.4 0M297.66 114.34a2.2 2.2 0 1 0 4.4 0a2.2 2.2 0 1 0 -4.4 0M454.97 114.34a2.2 2.2 0 1 0 4.4 0a2.2 2.2 0 1 0 -4.4 0M504.13 114.34a2.2 2.2 0 1 0 4.4 0a2.2 2.2 0 1 0 -4.4 0M523.79 114.34a2.2 2.2 0 1 0 4.4 0a2.2 2.2 0 1 0 -4.4 0M533.62 114.34a2.2 2.2 0 1 0 4.4 0a2.2 2.2 0 1 0 -4.4 0M543.45 114.34a2.2 2.2 0 1 0 4.4 0a2.2 2.2 0 1 0 -4.4 0M553.28 114.34a2.2 2.2 0 1 0 4.4 0a2.2 2.2 0 1 0 -4.4 0M563.12 114.34a2.2 2.2 0 1 0 4.4 0a2.2 2.2 0 1 0 -4.4 0M572.95 114.34a2.2 2.2 0 1 0 4.4 0a2.2 2.2 0 1 0 -4.4 0M582.78 114.34a2.2 2.2 0 1 0 4.4 0a2.2 2.2 0 1 0 -4.4 0M592.61 114.34a2.2 2.2 0 1 0 4.4 0a2.2 2.2 0 1 0 -4.4 0M602.44 114.34a2.2 2.2 0 1 0 4.4 0a2.2 2.2 0 1 0 -4.4 0M612.27 114.34a2.2 2.2 0 1 0 4.4 0a2.2 2.2 0 1 0 -4.4 0M622.11 114.34a2.2 2.2 0 1 0 4.4 0a2.2 2.2 0 1 0 -4.4 0M631.94 114.34a2.2 2.2 0 1 0 4.4 0a2.2 2.2 0 1 0 -4.4 0M641.77 114.34a2.2 2.2 0 1 0 4.4 0a2.2 2.2 0 1 0 -4.4 0M651.60 114.34a2.2 2.2 0 1 0 4.4 0a2.2 2.2 0 1 0 -4.4 0M661.43 114.34a2.2 2.2 0 1 0 4.4 0a2.2 2.2 0 1 0 -4.4 0M671.26 114.34a2.2 2.2 0 1 0 4.4 0a2.2 2.2 0 1 0 -4.4 0M681.09 114.34a2.2 2.2 0 1 0 4.4 0a2.2 2.2 0 1 0 -4.4 0M690.93 114.34a2.2 2.2 0 1 0 4.4 0a2.2 2.2 0 1 0 -4.4 0M700.76 114.34a2.2 2.2 0 1 0 4.4 0a2.2 2.2 0 1 0 -4.4 0M710.59 114.34a2.2 2.2 0 1 0 4.4 0a2.2 2.2 0 1 0 -4.4 0M720.42 114.34a2.2 2.2 0 1 0 4.4 0a2.2 2.2 0 1 0 -4.4 0M730.25 114.34a2.2 2.2 0 1 0 4.4 0a2.2 2.2 0 1 0 -4.4 0M740.08 114.34a2.2 2.2 0 1 0 4.4 0a2.2 2.2 0 1 0 -4.4 0M749.92 114.34a2.2 2.2 0 1 0 4.4 0a2.2 2.2 0 1 0 -4.4 0M759.75 114.34a2.2 2.2 0 1 0 4.4 0a2.2 2.2 0 1 0 -4.4 0M769.58 114.34a2.2 2.2 0 1 0 4.4 0a2.2 2.2 0 1 0 -4.4 0M779.41 114.34a2.2 2.2 0 1 0 4.4 0a2.2 2.2 0 1 0 -4.4 0M789.24 114.34a2.2 2.2 0 1 0 4.4 0a2.2 2.2 0 1 0 -4.4 0M799.07 114.34a2.2 2.2 0 1 0 4.4 0a2.2 2.2 0 1 0 -4.4 0M808.91 114.34a2.2 2.2 0 1 0 4.4 0a2.2 2.2 0 1 0 -4.4 0M818.74 114.34a2.2 2.2 0 1 0 4.4 0a2.2 2.2 0 1 0 -4.4 0M877.73 114.34a2.2 2.2 0 1 0 4.4 0a2.2 2.2 0 1 0 -4.4 0M887.56 114.34a2.2 2.2 0 1 0 4.4 0a2.2 2.2 0 1 0 -4.4 0M125.61 122.86a2.2 2.2 0 1 0 4.4 0a2.2 2.2 0 1 0 -4.4 0M135.44 122.86a2.2 2.2 0 1 0 4.4 0a2.2 2.2 0 1 0 -4.4 0M145.27 122.86a2.2 2.2 0 1 0 4.4 0a2.2 2.2 0 1 0 -4.4 0M155.11 122.86a2.2 2.2 0 1 0 4.4 0a2.2 2.2 0 1 0 -4.4 0M164.94 122.86a2.2 2.2 0 1 0 4.4 0a2.2 2.2 0 1 0 -4.4 0M174.77 122.86a2.2 2.2 0 1 0 4.4 0a2.2 2.2 0 1 0 -4.4 0M184.60 122.86a2.2 2.2 0 1 0 4.4 0a2.2 2.2 0 1 0 -4.4 0M194.43 122.86a2.2 2.2 0 1 0 4.4 0a2.2 2.2 0 1 0 -4.4 0M204.26 122.86a2.2 2.2 0 1 0 4.4 0a2.2 2.2 0 1 0 -4.4 0M214.09 122.86a2.2 2.2 0 1 0 4.4 0a2.2 2.2 0 1 0 -4.4 0M223.93 122.86a2.2 2.2 0 1 0 4.4 0a2.2 2.2 0 1 0 -4.4 0M233.76 122.86a2.2 2.2 0 1 0 4.4 0a2.2 2.2 0 1 0 -4.4 0M243.59 122.86a2.2 2.2 0 1 0 4.4 0a2.2 2.2 0 1 0 -4.4 0M263.25 122.86a2.2 2.2 0 1 0 4.4 0a2.2 2.2 0 1 0 -4.4 0M273.08 122.86a2.2 2.2 0 1 0 4.4 0a2.2 2.2 0 1 0 -4.4 0M282.92 122.86a2.2 2.2 0 1 0 4.4 0a2.2 2.2 0 1 0 -4.4 0M292.75 122.86a2.2 2.2 0 1 0 4.4 0a2.2 2.2 0 1 0 -4.4 0M302.58 122.86a2.2 2.2 0 1 0 4.4 0a2.2 2.2 0 1 0 -4.4 0M459.88 122.86a2.2 2.2 0 1 0 4.4 0a2.2 2.2 0 1 0 -4.4 0M489.38 122.86a2.2 2.2 0 1 0 4.4 0a2.2 2.2 0 1 0 -4.4 0M528.71 122.86a2.2 2.2 0 1 0 4.4 0a2.2 2.2 0 1 0 -4.4 0M538.54 122.86a2.2 2.2 0 1 0 4.4 0a2.2 2.2 0 1 0 -4.4 0M548.37 122.86a2.2 2.2 0 1 0 4.4 0a2.2 2.2 0 1 0 -4.4 0M558.20 122.86a2.2 2.2 0 1 0 4.4 0a2.2 2.2 0 1 0 -4.4 0M568.03 122.86a2.2 2.2 0 1 0 4.4 0a2.2 2.2 0 1 0 -4.4 0M577.86 122.86a2.2 2.2 0 1 0 4.4 0a2.2 2.2 0 1 0 -4.4 0M587.69 122.86a2.2 2.2 0 1 0 4.4 0a2.2 2.2 0 1 0 -4.4 0M597.53 122.86a2.2 2.2 0 1 0 4.4 0a2.2 2.2 0 1 0 -4.4 0M607.36 122.86a2.2 2.2 0 1 0 4.4 0a2.2 2.2 0 1 0 -4.4 0M617.19 122.86a2.2 2.2 0 1 0 4.4 0a2.2 2.2 0 1 0 -4.4 0M627.02 122.86a2.2 2.2 0 1 0 4.4 0a2.2 2.2 0 1 0 -4.4 0M636.85 122.86a2.2 2.2 0 1 0 4.4 0a2.2 2.2 0 1 0 -4.4 0M646.68 122.86a2.2 2.2 0 1 0 4.4 0a2.2 2.2 0 1 0 -4.4 0M656.52 122.86a2.2 2.2 0 1 0 4.4 0a2.2 2.2 0 1 0 -4.4 0M666.35 122.86a2.2 2.2 0 1 0 4.4 0a2.2 2.2 0 1 0 -4.4 0M676.18 122.86a2.2 2.2 0 1 0 4.4 0a2.2 2.2 0 1 0 -4.4 0M686.01 122.86a2.2 2.2 0 1 0 4.4 0a2.2 2.2 0 1 0 -4.4 0M695.84 122.86a2.2 2.2 0 1 0 4.4 0a2.2 2.2 0 1 0 -4.4 0M705.67 122.86a2.2 2.2 0 1 0 4.4 0a2.2 2.2 0 1 0 -4.4 0M715.51 122.86a2.2 2.2 0 1 0 4.4 0a2.2 2.2 0 1 0 -4.4 0M725.34 122.86a2.2 2.2 0 1 0 4.4 0a2.2 2.2 0 1 0 -4.4 0M735.17 122.86a2.2 2.2 0 1 0 4.4 0a2.2 2.2 0 1 0 -4.4 0M745.00 122.86a2.2 2.2 0 1 0 4.4 0a2.2 2.2 0 1 0 -4.4 0M754.83 122.86a2.2 2.2 0 1 0 4.4 0a2.2 2.2 0 1 0 -4.4 0M764.66 122.86a2.2 2.2 0 1 0 4.4 0a2.2 2.2 0 1 0 -4.4 0M774.49 122.86a2.2 2.2 0 1 0 4.4 0a2.2 2.2 0 1 0 -4.4 0M784.33 122.86a2.2 2.2 0 1 0 4.4 0a2.2 2.2 0 1 0 -4.4 0M794.16 122.86a2.2 2.2 0 1 0 4.4 0a2.2 2.2 0 1 0 -4.4 0M803.99 122.86a2.2 2.2 0 1 0 4.4 0a2.2 2.2 0 1 0 -4.4 0M813.82 122.86a2.2 2.2 0 1 0 4.4 0a2.2 2.2 0 1 0 -4.4 0M872.81 122.86a2.2 2.2 0 1 0 4.4 0a2.2 2.2 0 1 0 -4.4 0M882.64 122.86a2.2 2.2 0 1 0 4.4 0a2.2 2.2 0 1 0 -4.4 0M130.53 131.37a2.2 2.2 0 1 0 4.4 0a2.2 2.2 0 1 0 -4.4 0M140.36 131.37a2.2 2.2 0 1 0 4.4 0a2.2 2.2 0 1 0 -4.4 0M150.19 131.37a2.2 2.2 0 1 0 4.4 0a2.2 2.2 0 1 0 -4.4 0M160.02 131.37a2.2 2.2 0 1 0 4.4 0a2.2 2.2 0 1 0 -4.4 0M169.85 131.37a2.2 2.2 0 1 0 4.4 0a2.2 2.2 0 1 0 -4.4 0M179.68 131.37a2.2 2.2 0 1 0 4.4 0a2.2 2.2 0 1 0 -4.4 0M189.52 131.37a2.2 2.2 0 1 0 4.4 0a2.2 2.2 0 1 0 -4.4 0M199.35 131.37a2.2 2.2 0 1 0 4.4 0a2.2 2.2 0 1 0 -4.4 0M209.18 131.37a2.2 2.2 0 1 0 4.4 0a2.2 2.2 0 1 0 -4.4 0M219.01 131.37a2.2 2.2 0 1 0 4.4 0a2.2 2.2 0 1 0 -4.4 0M228.84 131.37a2.2 2.2 0 1 0 4.4 0a2.2 2.2 0 1 0 -4.4 0M238.67 131.37a2.2 2.2 0 1 0 4.4 0a2.2 2.2 0 1 0 -4.4 0M248.51 131.37a2.2 2.2 0 1 0 4.4 0a2.2 2.2 0 1 0 -4.4 0M268.17 131.37a2.2 2.2 0 1 0 4.4 0a2.2 2.2 0 1 0 -4.4 0M278.00 131.37a2.2 2.2 0 1 0 4.4 0a2.2 2.2 0 1 0 -4.4 0M287.83 131.37a2.2 2.2 0 1 0 4.4 0a2.2 2.2 0 1 0 -4.4 0M297.66 131.37a2.2 2.2 0 1 0 4.4 0a2.2 2.2 0 1 0 -4.4 0M307.49 131.37a2.2 2.2 0 1 0 4.4 0a2.2 2.2 0 1 0 -4.4 0M317.33 131.37a2.2 2.2 0 1 0 4.4 0a2.2 2.2 0 1 0 -4.4 0M445.14 131.37a2.2 2.2 0 1 0 4.4 0a2.2 2.2 0 1 0 -4.4 0M454.97 131.37a2.2 2.2 0 1 0 4.4 0a2.2 2.2 0 1 0 -4.4 0M464.80 131.37a2.2 2.2 0 1 0 4.4 0a2.2 2.2 0 1 0 -4.4 0M484.46 131.37a2.2 2.2 0 1 0 4.4 0a2.2 2.2 0 1 0 -4.4 0M494.29 131.37a2.2 2.2 0 1 0 4.4 0a2.2 2.2 0 1 0 -4.4 0M504.13 131.37a2.2 2.2 0 1 0 4.4 0a2.2 2.2 0 1 0 -4.4 0M513.96 131.37a2.2 2.2 0 1 0 4.4 0a2.2 2.2 0 1 0 -4.4 0M523.79 131.37a2.2 2.2 0 1 0 4.4 0a2.2 2.2 0 1 0 -4.4 0M533.62 131.37a2.2 2.2 0 1 0 4.4 0a2.2 2.2 0 1 0 -4.4 0M543.45 131.37a2.2 2.2 0 1 0 4.4 0a2.2 2.2 0 1 0 -4.4 0M553.28 131.37a2.2 2.2 0 1 0 4.4 0a2.2 2.2 0 1 0 -4.4 0M563.12 131.37a2.2 2.2 0 1 0 4.4 0a2.2 2.2 0 1 0 -4.4 0M572.95 131.37a2.2 2.2 0 1 0 4.4 0a2.2 2.2 0 1 0 -4.4 0M582.78 131.37a2.2 2.2 0 1 0 4.4 0a2.2 2.2 0 1 0 -4.4 0M592.61 131.37a2.2 2.2 0 1 0 4.4 0a2.2 2.2 0 1 0 -4.4 0M602.44 131.37a2.2 2.2 0 1 0 4.4 0a2.2 2.2 0 1 0 -4.4 0M612.27 131.37a2.2 2.2 0 1 0 4.4 0a2.2 2.2 0 1 0 -4.4 0M622.11 131.37a2.2 2.2 0 1 0 4.4 0a2.2 2.2 0 1 0 -4.4 0M631.94 131.37a2.2 2.2 0 1 0 4.4 0a2.2 2.2 0 1 0 -4.4 0M641.77 131.37a2.2 2.2 0 1 0 4.4 0a2.2 2.2 0 1 0 -4.4 0M651.60 131.37a2.2 2.2 0 1 0 4.4 0a2.2 2.2 0 1 0 -4.4 0M661.43 131.37a2.2 2.2 0 1 0 4.4 0a2.2 2.2 0 1 0 -4.4 0M671.26 131.37a2.2 2.2 0 1 0 4.4 0a2.2 2.2 0 1 0 -4.4 0M681.09 131.37a2.2 2.2 0 1 0 4.4 0a2.2 2.2 0 1 0 -4.4 0M690.93 131.37a2.2 2.2 0 1 0 4.4 0a2.2 2.2 0 1 0 -4.4 0M700.76 131.37a2.2 2.2 0 1 0 4.4 0a2.2 2.2 0 1 0 -4.4 0M710.59 131.37a2.2 2.2 0 1 0 4.4 0a2.2 2.2 0 1 0 -4.4 0M720.42 131.37a2.2 2.2 0 1 0 4.4 0a2.2 2.2 0 1 0 -4.4 0M730.25 131.37a2.2 2.2 0 1 0 4.4 0a2.2 2.2 0 1 0 -4.4 0M740.08 131.37a2.2 2.2 0 1 0 4.4 0a2.2 2.2 0 1 0 -4.4 0M749.92 131.37a2.2 2.2 0 1 0 4.4 0a2.2 2.2 0 1 0 -4.4 0M759.75 131.37a2.2 2.2 0 1 0 4.4 0a2.2 2.2 0 1 0 -4.4 0M769.58 131.37a2.2 2.2 0 1 0 4.4 0a2.2 2.2 0 1 0 -4.4 0M779.41 131.37a2.2 2.2 0 1 0 4.4 0a2.2 2.2 0 1 0 -4.4 0M789.24 131.37a2.2 2.2 0 1 0 4.4 0a2.2 2.2 0 1 0 -4.4 0M799.07 131.37a2.2 2.2 0 1 0 4.4 0a2.2 2.2 0 1 0 -4.4 0M808.91 131.37a2.2 2.2 0 1 0 4.4 0a2.2 2.2 0 1 0 -4.4 0M818.74 131.37a2.2 2.2 0 1 0 4.4 0a2.2 2.2 0 1 0 -4.4 0M828.57 131.37a2.2 2.2 0 1 0 4.4 0a2.2 2.2 0 1 0 -4.4 0M877.73 131.37a2.2 2.2 0 1 0 4.4 0a2.2 2.2 0 1 0 -4.4 0M135.44 139.89a2.2 2.2 0 1 0 4.4 0a2.2 2.2 0 1 0 -4.4 0M145.27 139.89a2.2 2.2 0 1 0 4.4 0a2.2 2.2 0 1 0 -4.4 0M155.11 139.89a2.2 2.2 0 1 0 4.4 0a2.2 2.2 0 1 0 -4.4 0M164.94 139.89a2.2 2.2 0 1 0 4.4 0a2.2 2.2 0 1 0 -4.4 0M174.77 139.89a2.2 2.2 0 1 0 4.4 0a2.2 2.2 0 1 0 -4.4 0M184.60 139.89a2.2 2.2 0 1 0 4.4 0a2.2 2.2 0 1 0 -4.4 0M194.43 139.89a2.2 2.2 0 1 0 4.4 0a2.2 2.2 0 1 0 -4.4 0M204.26 139.89a2.2 2.2 0 1 0 4.4 0a2.2 2.2 0 1 0 -4.4 0M214.09 139.89a2.2 2.2 0 1 0 4.4 0a2.2 2.2 0 1 0 -4.4 0M223.93 139.89a2.2 2.2 0 1 0 4.4 0a2.2 2.2 0 1 0 -4.4 0M233.76 139.89a2.2 2.2 0 1 0 4.4 0a2.2 2.2 0 1 0 -4.4 0M243.59 139.89a2.2 2.2 0 1 0 4.4 0a2.2 2.2 0 1 0 -4.4 0M253.42 139.89a2.2 2.2 0 1 0 4.4 0a2.2 2.2 0 1 0 -4.4 0M263.25 139.89a2.2 2.2 0 1 0 4.4 0a2.2 2.2 0 1 0 -4.4 0M273.08 139.89a2.2 2.2 0 1 0 4.4 0a2.2 2.2 0 1 0 -4.4 0M282.92 139.89a2.2 2.2 0 1 0 4.4 0a2.2 2.2 0 1 0 -4.4 0M292.75 139.89a2.2 2.2 0 1 0 4.4 0a2.2 2.2 0 1 0 -4.4 0M302.58 139.89a2.2 2.2 0 1 0 4.4 0a2.2 2.2 0 1 0 -4.4 0M312.41 139.89a2.2 2.2 0 1 0 4.4 0a2.2 2.2 0 1 0 -4.4 0M459.88 139.89a2.2 2.2 0 1 0 4.4 0a2.2 2.2 0 1 0 -4.4 0M499.21 139.89a2.2 2.2 0 1 0 4.4 0a2.2 2.2 0 1 0 -4.4 0M509.04 139.89a2.2 2.2 0 1 0 4.4 0a2.2 2.2 0 1 0 -4.4 0M518.87 139.89a2.2 2.2 0 1 0 4.4 0a2.2 2.2 0 1 0 -4.4 0M528.71 139.89a2.2 2.2 0 1 0 4.4 0a2.2 2.2 0 1 0 -4.4 0M538.54 139.89a2.2 2.2 0 1 0 4.4 0a2.2 2.2 0 1 0 -4.4 0M548.37 139.89a2.2 2.2 0 1 0 4.4 0a2.2 2.2 0 1 0 -4.4 0M558.20 139.89a2.2 2.2 0 1 0 4.4 0a2.2 2.2 0 1 0 -4.4 0M568.03 139.89a2.2 2.2 0 1 0 4.4 0a2.2 2.2 0 1 0 -4.4 0M577.86 139.89a2.2 2.2 0 1 0 4.4 0a2.2 2.2 0 1 0 -4.4 0M587.69 139.89a2.2 2.2 0 1 0 4.4 0a2.2 2.2 0 1 0 -4.4 0M597.53 139.89a2.2 2.2 0 1 0 4.4 0a2.2 2.2 0 1 0 -4.4 0M607.36 139.89a2.2 2.2 0 1 0 4.4 0a2.2 2.2 0 1 0 -4.4 0M617.19 139.89a2.2 2.2 0 1 0 4.4 0a2.2 2.2 0 1 0 -4.4 0M627.02 139.89a2.2 2.2 0 1 0 4.4 0a2.2 2.2 0 1 0 -4.4 0M636.85 139.89a2.2 2.2 0 1 0 4.4 0a2.2 2.2 0 1 0 -4.4 0M646.68 139.89a2.2 2.2 0 1 0 4.4 0a2.2 2.2 0 1 0 -4.4 0M656.52 139.89a2.2 2.2 0 1 0 4.4 0a2.2 2.2 0 1 0 -4.4 0M666.35 139.89a2.2 2.2 0 1 0 4.4 0a2.2 2.2 0 1 0 -4.4 0M676.18 139.89a2.2 2.2 0 1 0 4.4 0a2.2 2.2 0 1 0 -4.4 0M686.01 139.89a2.2 2.2 0 1 0 4.4 0a2.2 2.2 0 1 0 -4.4 0M695.84 139.89a2.2 2.2 0 1 0 4.4 0a2.2 2.2 0 1 0 -4.4 0M705.67 139.89a2.2 2.2 0 1 0 4.4 0a2.2 2.2 0 1 0 -4.4 0M715.51 139.89a2.2 2.2 0 1 0 4.4 0a2.2 2.2 0 1 0 -4.4 0M725.34 139.89a2.2 2.2 0 1 0 4.4 0a2.2 2.2 0 1 0 -4.4 0M735.17 139.89a2.2 2.2 0 1 0 4.4 0a2.2 2.2 0 1 0 -4.4 0M745.00 139.89a2.2 2.2 0 1 0 4.4 0a2.2 2.2 0 1 0 -4.4 0M754.83 139.89a2.2 2.2 0 1 0 4.4 0a2.2 2.2 0 1 0 -4.4 0M764.66 139.89a2.2 2.2 0 1 0 4.4 0a2.2 2.2 0 1 0 -4.4 0M774.49 139.89a2.2 2.2 0 1 0 4.4 0a2.2 2.2 0 1 0 -4.4 0M784.33 139.89a2.2 2.2 0 1 0 4.4 0a2.2 2.2 0 1 0 -4.4 0M794.16 139.89a2.2 2.2 0 1 0 4.4 0a2.2 2.2 0 1 0 -4.4 0M803.99 139.89a2.2 2.2 0 1 0 4.4 0a2.2 2.2 0 1 0 -4.4 0M813.82 139.89a2.2 2.2 0 1 0 4.4 0a2.2 2.2 0 1 0 -4.4 0M823.65 139.89a2.2 2.2 0 1 0 4.4 0a2.2 2.2 0 1 0 -4.4 0M140.36 148.40a2.2 2.2 0 1 0 4.4 0a2.2 2.2 0 1 0 -4.4 0M150.19 148.40a2.2 2.2 0 1 0 4.4 0a2.2 2.2 0 1 0 -4.4 0M160.02 148.40a2.2 2.2 0 1 0 4.4 0a2.2 2.2 0 1 0 -4.4 0M169.85 148.40a2.2 2.2 0 1 0 4.4 0a2.2 2.2 0 1 0 -4.4 0M179.68 148.40a2.2 2.2 0 1 0 4.4 0a2.2 2.2 0 1 0 -4.4 0M189.52 148.40a2.2 2.2 0 1 0 4.4 0a2.2 2.2 0 1 0 -4.4 0M199.35 148.40a2.2 2.2 0 1 0 4.4 0a2.2 2.2 0 1 0 -4.4 0M209.18 148.40a2.2 2.2 0 1 0 4.4 0a2.2 2.2 0 1 0 -4.4 0M219.01 148.40a2.2 2.2 0 1 0 4.4 0a2.2 2.2 0 1 0 -4.4 0M228.84 148.40a2.2 2.2 0 1 0 4.4 0a2.2 2.2 0 1 0 -4.4 0M238.67 148.40a2.2 2.2 0 1 0 4.4 0a2.2 2.2 0 1 0 -4.4 0M248.51 148.40a2.2 2.2 0 1 0 4.4 0a2.2 2.2 0 1 0 -4.4 0M258.34 148.40a2.2 2.2 0 1 0 4.4 0a2.2 2.2 0 1 0 -4.4 0M268.17 148.40a2.2 2.2 0 1 0 4.4 0a2.2 2.2 0 1 0 -4.4 0M278.00 148.40a2.2 2.2 0 1 0 4.4 0a2.2 2.2 0 1 0 -4.4 0M317.33 148.40a2.2 2.2 0 1 0 4.4 0a2.2 2.2 0 1 0 -4.4 0M464.80 148.40a2.2 2.2 0 1 0 4.4 0a2.2 2.2 0 1 0 -4.4 0M474.63 148.40a2.2 2.2 0 1 0 4.4 0a2.2 2.2 0 1 0 -4.4 0M494.29 148.40a2.2 2.2 0 1 0 4.4 0a2.2 2.2 0 1 0 -4.4 0M504.13 148.40a2.2 2.2 0 1 0 4.4 0a2.2 2.2 0 1 0 -4.4 0M513.96 148.40a2.2 2.2 0 1 0 4.4 0a2.2 2.2 0 1 0 -4.4 0M523.79 148.40a2.2 2.2 0 1 0 4.4 0a2.2 2.2 0 1 0 -4.4 0M533.62 148.40a2.2 2.2 0 1 0 4.4 0a2.2 2.2 0 1 0 -4.4 0M543.45 148.40a2.2 2.2 0 1 0 4.4 0a2.2 2.2 0 1 0 -4.4 0M553.28 148.40a2.2 2.2 0 1 0 4.4 0a2.2 2.2 0 1 0 -4.4 0M563.12 148.40a2.2 2.2 0 1 0 4.4 0a2.2 2.2 0 1 0 -4.4 0M572.95 148.40a2.2 2.2 0 1 0 4.4 0a2.2 2.2 0 1 0 -4.4 0M582.78 148.40a2.2 2.2 0 1 0 4.4 0a2.2 2.2 0 1 0 -4.4 0M592.61 148.40a2.2 2.2 0 1 0 4.4 0a2.2 2.2 0 1 0 -4.4 0M602.44 148.40a2.2 2.2 0 1 0 4.4 0a2.2 2.2 0 1 0 -4.4 0M612.27 148.40a2.2 2.2 0 1 0 4.4 0a2.2 2.2 0 1 0 -4.4 0M622.11 148.40a2.2 2.2 0 1 0 4.4 0a2.2 2.2 0 1 0 -4.4 0M631.94 148.40a2.2 2.2 0 1 0 4.4 0a2.2 2.2 0 1 0 -4.4 0M641.77 148.40a2.2 2.2 0 1 0 4.4 0a2.2 2.2 0 1 0 -4.4 0M651.60 148.40a2.2 2.2 0 1 0 4.4 0a2.2 2.2 0 1 0 -4.4 0M661.43 148.40a2.2 2.2 0 1 0 4.4 0a2.2 2.2 0 1 0 -4.4 0M671.26 148.40a2.2 2.2 0 1 0 4.4 0a2.2 2.2 0 1 0 -4.4 0M681.09 148.40a2.2 2.2 0 1 0 4.4 0a2.2 2.2 0 1 0 -4.4 0M690.93 148.40a2.2 2.2 0 1 0 4.4 0a2.2 2.2 0 1 0 -4.4 0M700.76 148.40a2.2 2.2 0 1 0 4.4 0a2.2 2.2 0 1 0 -4.4 0M710.59 148.40a2.2 2.2 0 1 0 4.4 0a2.2 2.2 0 1 0 -4.4 0M720.42 148.40a2.2 2.2 0 1 0 4.4 0a2.2 2.2 0 1 0 -4.4 0M730.25 148.40a2.2 2.2 0 1 0 4.4 0a2.2 2.2 0 1 0 -4.4 0M740.08 148.40a2.2 2.2 0 1 0 4.4 0a2.2 2.2 0 1 0 -4.4 0M749.92 148.40a2.2 2.2 0 1 0 4.4 0a2.2 2.2 0 1 0 -4.4 0M759.75 148.40a2.2 2.2 0 1 0 4.4 0a2.2 2.2 0 1 0 -4.4 0M769.58 148.40a2.2 2.2 0 1 0 4.4 0a2.2 2.2 0 1 0 -4.4 0M779.41 148.40a2.2 2.2 0 1 0 4.4 0a2.2 2.2 0 1 0 -4.4 0M789.24 148.40a2.2 2.2 0 1 0 4.4 0a2.2 2.2 0 1 0 -4.4 0M799.07 148.40a2.2 2.2 0 1 0 4.4 0a2.2 2.2 0 1 0 -4.4 0M808.91 148.40a2.2 2.2 0 1 0 4.4 0a2.2 2.2 0 1 0 -4.4 0M818.74 148.40a2.2 2.2 0 1 0 4.4 0a2.2 2.2 0 1 0 -4.4 0M828.57 148.40a2.2 2.2 0 1 0 4.4 0a2.2 2.2 0 1 0 -4.4 0M145.27 156.92a2.2 2.2 0 1 0 4.4 0a2.2 2.2 0 1 0 -4.4 0M155.11 156.92a2.2 2.2 0 1 0 4.4 0a2.2 2.2 0 1 0 -4.4 0M164.94 156.92a2.2 2.2 0 1 0 4.4 0a2.2 2.2 0 1 0 -4.4 0M174.77 156.92a2.2 2.2 0 1 0 4.4 0a2.2 2.2 0 1 0 -4.4 0M184.60 156.92a2.2 2.2 0 1 0 4.4 0a2.2 2.2 0 1 0 -4.4 0M194.43 156.92a2.2 2.2 0 1 0 4.4 0a2.2 2.2 0 1 0 -4.4 0M204.26 156.92a2.2 2.2 0 1 0 4.4 0a2.2 2.2 0 1 0 -4.4 0M214.09 156.92a2.2 2.2 0 1 0 4.4 0a2.2 2.2 0 1 0 -4.4 0M223.93 156.92a2.2 2.2 0 1 0 4.4 0a2.2 2.2 0 1 0 -4.4 0M233.76 156.92a2.2 2.2 0 1 0 4.4 0a2.2 2.2 0 1 0 -4.4 0M243.59 156.92a2.2 2.2 0 1 0 4.4 0a2.2 2.2 0 1 0 -4.4 0M253.42 156.92a2.2 2.2 0 1 0 4.4 0a2.2 2.2 0 1 0 -4.4 0M263.25 156.92a2.2 2.2 0 1 0 4.4 0a2.2 2.2 0 1 0 -4.4 0M273.08 156.92a2.2 2.2 0 1 0 4.4 0a2.2 2.2 0 1 0 -4.4 0M282.92 156.92a2.2 2.2 0 1 0 4.4 0a2.2 2.2 0 1 0 -4.4 0M292.75 156.92a2.2 2.2 0 1 0 4.4 0a2.2 2.2 0 1 0 -4.4 0M459.88 156.92a2.2 2.2 0 1 0 4.4 0a2.2 2.2 0 1 0 -4.4 0M469.72 156.92a2.2 2.2 0 1 0 4.4 0a2.2 2.2 0 1 0 -4.4 0M479.55 156.92a2.2 2.2 0 1 0 4.4 0a2.2 2.2 0 1 0 -4.4 0M489.38 156.92a2.2 2.2 0 1 0 4.4 0a2.2 2.2 0 1 0 -4.4 0M499.21 156.92a2.2 2.2 0 1 0 4.4 0a2.2 2.2 0 1 0 -4.4 0M509.04 156.92a2.2 2.2 0 1 0 4.4 0a2.2 2.2 0 1 0 -4.4 0M518.87 156.92a2.2 2.2 0 1 0 4.4 0a2.2 2.2 0 1 0 -4.4 0M528.71 156.92a2.2 2.2 0 1 0 4.4 0a2.2 2.2 0 1 0 -4.4 0M538.54 156.92a2.2 2.2 0 1 0 4.4 0a2.2 2.2 0 1 0 -4.4 0M548.37 156.92a2.2 2.2 0 1 0 4.4 0a2.2 2.2 0 1 0 -4.4 0M558.20 156.92a2.2 2.2 0 1 0 4.4 0a2.2 2.2 0 1 0 -4.4 0M568.03 156.92a2.2 2.2 0 1 0 4.4 0a2.2 2.2 0 1 0 -4.4 0M577.86 156.92a2.2 2.2 0 1 0 4.4 0a2.2 2.2 0 1 0 -4.4 0M587.69 156.92a2.2 2.2 0 1 0 4.4 0a2.2 2.2 0 1 0 -4.4 0M607.36 156.92a2.2 2.2 0 1 0 4.4 0a2.2 2.2 0 1 0 -4.4 0M617.19 156.92a2.2 2.2 0 1 0 4.4 0a2.2 2.2 0 1 0 -4.4 0M627.02 156.92a2.2 2.2 0 1 0 4.4 0a2.2 2.2 0 1 0 -4.4 0M636.85 156.92a2.2 2.2 0 1 0 4.4 0a2.2 2.2 0 1 0 -4.4 0M646.68 156.92a2.2 2.2 0 1 0 4.4 0a2.2 2.2 0 1 0 -4.4 0M656.52 156.92a2.2 2.2 0 1 0 4.4 0a2.2 2.2 0 1 0 -4.4 0M666.35 156.92a2.2 2.2 0 1 0 4.4 0a2.2 2.2 0 1 0 -4.4 0M676.18 156.92a2.2 2.2 0 1 0 4.4 0a2.2 2.2 0 1 0 -4.4 0M686.01 156.92a2.2 2.2 0 1 0 4.4 0a2.2 2.2 0 1 0 -4.4 0M695.84 156.92a2.2 2.2 0 1 0 4.4 0a2.2 2.2 0 1 0 -4.4 0M705.67 156.92a2.2 2.2 0 1 0 4.4 0a2.2 2.2 0 1 0 -4.4 0M715.51 156.92a2.2 2.2 0 1 0 4.4 0a2.2 2.2 0 1 0 -4.4 0M725.34 156.92a2.2 2.2 0 1 0 4.4 0a2.2 2.2 0 1 0 -4.4 0M735.17 156.92a2.2 2.2 0 1 0 4.4 0a2.2 2.2 0 1 0 -4.4 0M745.00 156.92a2.2 2.2 0 1 0 4.4 0a2.2 2.2 0 1 0 -4.4 0M754.83 156.92a2.2 2.2 0 1 0 4.4 0a2.2 2.2 0 1 0 -4.4 0M764.66 156.92a2.2 2.2 0 1 0 4.4 0a2.2 2.2 0 1 0 -4.4 0M774.49 156.92a2.2 2.2 0 1 0 4.4 0a2.2 2.2 0 1 0 -4.4 0M784.33 156.92a2.2 2.2 0 1 0 4.4 0a2.2 2.2 0 1 0 -4.4 0M794.16 156.92a2.2 2.2 0 1 0 4.4 0a2.2 2.2 0 1 0 -4.4 0M803.99 156.92a2.2 2.2 0 1 0 4.4 0a2.2 2.2 0 1 0 -4.4 0M813.82 156.92a2.2 2.2 0 1 0 4.4 0a2.2 2.2 0 1 0 -4.4 0M823.65 156.92a2.2 2.2 0 1 0 4.4 0a2.2 2.2 0 1 0 -4.4 0M150.19 165.43a2.2 2.2 0 1 0 4.4 0a2.2 2.2 0 1 0 -4.4 0M160.02 165.43a2.2 2.2 0 1 0 4.4 0a2.2 2.2 0 1 0 -4.4 0M169.85 165.43a2.2 2.2 0 1 0 4.4 0a2.2 2.2 0 1 0 -4.4 0M179.68 165.43a2.2 2.2 0 1 0 4.4 0a2.2 2.2 0 1 0 -4.4 0M189.52 165.43a2.2 2.2 0 1 0 4.4 0a2.2 2.2 0 1 0 -4.4 0M199.35 165.43a2.2 2.2 0 1 0 4.4 0a2.2 2.2 0 1 0 -4.4 0M209.18 165.43a2.2 2.2 0 1 0 4.4 0a2.2 2.2 0 1 0 -4.4 0M219.01 165.43a2.2 2.2 0 1 0 4.4 0a2.2 2.2 0 1 0 -4.4 0M228.84 165.43a2.2 2.2 0 1 0 4.4 0a2.2 2.2 0 1 0 -4.4 0M238.67 165.43a2.2 2.2 0 1 0 4.4 0a2.2 2.2 0 1 0 -4.4 0M248.51 165.43a2.2 2.2 0 1 0 4.4 0a2.2 2.2 0 1 0 -4.4 0M258.34 165.43a2.2 2.2 0 1 0 4.4 0a2.2 2.2 0 1 0 -4.4 0M278.00 165.43a2.2 2.2 0 1 0 4.4 0a2.2 2.2 0 1 0 -4.4 0M287.83 165.43a2.2 2.2 0 1 0 4.4 0a2.2 2.2 0 1 0 -4.4 0M297.66 165.43a2.2 2.2 0 1 0 4.4 0a2.2 2.2 0 1 0 -4.4 0M464.80 165.43a2.2 2.2 0 1 0 4.4 0a2.2 2.2 0 1 0 -4.4 0M474.63 165.43a2.2 2.2 0 1 0 4.4 0a2.2 2.2 0 1 0 -4.4 0M484.46 165.43a2.2 2.2 0 1 0 4.4 0a2.2 2.2 0 1 0 -4.4 0M494.29 165.43a2.2 2.2 0 1 0 4.4 0a2.2 2.2 0 1 0 -4.4 0M504.13 165.43a2.2 2.2 0 1 0 4.4 0a2.2 2.2 0 1 0 -4.4 0M513.96 165.43a2.2 2.2 0 1 0 4.4 0a2.2 2.2 0 1 0 -4.4 0M523.79 165.43a2.2 2.2 0 1 0 4.4 0a2.2 2.2 0 1 0 -4.4 0M533.62 165.43a2.2 2.2 0 1 0 4.4 0a2.2 2.2 0 1 0 -4.4 0M553.28 165.43a2.2 2.2 0 1 0 4.4 0a2.2 2.2 0 1 0 -4.4 0M563.12 165.43a2.2 2.2 0 1 0 4.4 0a2.2 2.2 0 1 0 -4.4 0M572.95 165.43a2.2 2.2 0 1 0 4.4 0a2.2 2.2 0 1 0 -4.4 0M582.78 165.43a2.2 2.2 0 1 0 4.4 0a2.2 2.2 0 1 0 -4.4 0M602.44 165.43a2.2 2.2 0 1 0 4.4 0a2.2 2.2 0 1 0 -4.4 0M612.27 165.43a2.2 2.2 0 1 0 4.4 0a2.2 2.2 0 1 0 -4.4 0M622.11 165.43a2.2 2.2 0 1 0 4.4 0a2.2 2.2 0 1 0 -4.4 0M631.94 165.43a2.2 2.2 0 1 0 4.4 0a2.2 2.2 0 1 0 -4.4 0M641.77 165.43a2.2 2.2 0 1 0 4.4 0a2.2 2.2 0 1 0 -4.4 0M651.60 165.43a2.2 2.2 0 1 0 4.4 0a2.2 2.2 0 1 0 -4.4 0M661.43 165.43a2.2 2.2 0 1 0 4.4 0a2.2 2.2 0 1 0 -4.4 0M671.26 165.43a2.2 2.2 0 1 0 4.4 0a2.2 2.2 0 1 0 -4.4 0M681.09 165.43a2.2 2.2 0 1 0 4.4 0a2.2 2.2 0 1 0 -4.4 0M690.93 165.43a2.2 2.2 0 1 0 4.4 0a2.2 2.2 0 1 0 -4.4 0M700.76 165.43a2.2 2.2 0 1 0 4.4 0a2.2 2.2 0 1 0 -4.4 0M710.59 165.43a2.2 2.2 0 1 0 4.4 0a2.2 2.2 0 1 0 -4.4 0M720.42 165.43a2.2 2.2 0 1 0 4.4 0a2.2 2.2 0 1 0 -4.4 0M730.25 165.43a2.2 2.2 0 1 0 4.4 0a2.2 2.2 0 1 0 -4.4 0M740.08 165.43a2.2 2.2 0 1 0 4.4 0a2.2 2.2 0 1 0 -4.4 0M749.92 165.43a2.2 2.2 0 1 0 4.4 0a2.2 2.2 0 1 0 -4.4 0M759.75 165.43a2.2 2.2 0 1 0 4.4 0a2.2 2.2 0 1 0 -4.4 0M769.58 165.43a2.2 2.2 0 1 0 4.4 0a2.2 2.2 0 1 0 -4.4 0M779.41 165.43a2.2 2.2 0 1 0 4.4 0a2.2 2.2 0 1 0 -4.4 0M789.24 165.43a2.2 2.2 0 1 0 4.4 0a2.2 2.2 0 1 0 -4.4 0M799.07 165.43a2.2 2.2 0 1 0 4.4 0a2.2 2.2 0 1 0 -4.4 0M808.91 165.43a2.2 2.2 0 1 0 4.4 0a2.2 2.2 0 1 0 -4.4 0M818.74 165.43a2.2 2.2 0 1 0 4.4 0a2.2 2.2 0 1 0 -4.4 0M145.27 173.94a2.2 2.2 0 1 0 4.4 0a2.2 2.2 0 1 0 -4.4 0M155.11 173.94a2.2 2.2 0 1 0 4.4 0a2.2 2.2 0 1 0 -4.4 0M164.94 173.94a2.2 2.2 0 1 0 4.4 0a2.2 2.2 0 1 0 -4.4 0M174.77 173.94a2.2 2.2 0 1 0 4.4 0a2.2 2.2 0 1 0 -4.4 0M184.60 173.94a2.2 2.2 0 1 0 4.4 0a2.2 2.2 0 1 0 -4.4 0M194.43 173.94a2.2 2.2 0 1 0 4.4 0a2.2 2.2 0 1 0 -4.4 0M204.26 173.94a2.2 2.2 0 1 0 4.4 0a2.2 2.2 0 1 0 -4.4 0M214.09 173.94a2.2 2.2 0 1 0 4.4 0a2.2 2.2 0 1 0 -4.4 0M223.93 173.94a2.2 2.2 0 1 0 4.4 0a2.2 2.2 0 1 0 -4.4 0M233.76 173.94a2.2 2.2 0 1 0 4.4 0a2.2 2.2 0 1 0 -4.4 0M243.59 173.94a2.2 2.2 0 1 0 4.4 0a2.2 2.2 0 1 0 -4.4 0M253.42 173.94a2.2 2.2 0 1 0 4.4 0a2.2 2.2 0 1 0 -4.4 0M263.25 173.94a2.2 2.2 0 1 0 4.4 0a2.2 2.2 0 1 0 -4.4 0M273.08 173.94a2.2 2.2 0 1 0 4.4 0a2.2 2.2 0 1 0 -4.4 0M450.05 173.94a2.2 2.2 0 1 0 4.4 0a2.2 2.2 0 1 0 -4.4 0M459.88 173.94a2.2 2.2 0 1 0 4.4 0a2.2 2.2 0 1 0 -4.4 0M469.72 173.94a2.2 2.2 0 1 0 4.4 0a2.2 2.2 0 1 0 -4.4 0M489.38 173.94a2.2 2.2 0 1 0 4.4 0a2.2 2.2 0 1 0 -4.4 0M499.21 173.94a2.2 2.2 0 1 0 4.4 0a2.2 2.2 0 1 0 -4.4 0M518.87 173.94a2.2 2.2 0 1 0 4.4 0a2.2 2.2 0 1 0 -4.4 0M528.71 173.94a2.2 2.2 0 1 0 4.4 0a2.2 2.2 0 1 0 -4.4 0M577.86 173.94a2.2 2.2 0 1 0 4.4 0a2.2 2.2 0 1 0 -4.4 0M587.69 173.94a2.2 2.2 0 1 0 4.4 0a2.2 2.2 0 1 0 -4.4 0M607.36 173.94a2.2 2.2 0 1 0 4.4 0a2.2 2.2 0 1 0 -4.4 0M617.19 173.94a2.2 2.2 0 1 0 4.4 0a2.2 2.2 0 1 0 -4.4 0M627.02 173.94a2.2 2.2 0 1 0 4.4 0a2.2 2.2 0 1 0 -4.4 0M636.85 173.94a2.2 2.2 0 1 0 4.4 0a2.2 2.2 0 1 0 -4.4 0M646.68 173.94a2.2 2.2 0 1 0 4.4 0a2.2 2.2 0 1 0 -4.4 0M656.52 173.94a2.2 2.2 0 1 0 4.4 0a2.2 2.2 0 1 0 -4.4 0M666.35 173.94a2.2 2.2 0 1 0 4.4 0a2.2 2.2 0 1 0 -4.4 0M676.18 173.94a2.2 2.2 0 1 0 4.4 0a2.2 2.2 0 1 0 -4.4 0M686.01 173.94a2.2 2.2 0 1 0 4.4 0a2.2 2.2 0 1 0 -4.4 0M695.84 173.94a2.2 2.2 0 1 0 4.4 0a2.2 2.2 0 1 0 -4.4 0M705.67 173.94a2.2 2.2 0 1 0 4.4 0a2.2 2.2 0 1 0 -4.4 0M715.51 173.94a2.2 2.2 0 1 0 4.4 0a2.2 2.2 0 1 0 -4.4 0M725.34 173.94a2.2 2.2 0 1 0 4.4 0a2.2 2.2 0 1 0 -4.4 0M735.17 173.94a2.2 2.2 0 1 0 4.4 0a2.2 2.2 0 1 0 -4.4 0M745.00 173.94a2.2 2.2 0 1 0 4.4 0a2.2 2.2 0 1 0 -4.4 0M754.83 173.94a2.2 2.2 0 1 0 4.4 0a2.2 2.2 0 1 0 -4.4 0M764.66 173.94a2.2 2.2 0 1 0 4.4 0a2.2 2.2 0 1 0 -4.4 0M774.49 173.94a2.2 2.2 0 1 0 4.4 0a2.2 2.2 0 1 0 -4.4 0M784.33 173.94a2.2 2.2 0 1 0 4.4 0a2.2 2.2 0 1 0 -4.4 0M794.16 173.94a2.2 2.2 0 1 0 4.4 0a2.2 2.2 0 1 0 -4.4 0M803.99 173.94a2.2 2.2 0 1 0 4.4 0a2.2 2.2 0 1 0 -4.4 0M833.48 173.94a2.2 2.2 0 1 0 4.4 0a2.2 2.2 0 1 0 -4.4 0M150.19 182.46a2.2 2.2 0 1 0 4.4 0a2.2 2.2 0 1 0 -4.4 0M160.02 182.46a2.2 2.2 0 1 0 4.4 0a2.2 2.2 0 1 0 -4.4 0M169.85 182.46a2.2 2.2 0 1 0 4.4 0a2.2 2.2 0 1 0 -4.4 0M179.68 182.46a2.2 2.2 0 1 0 4.4 0a2.2 2.2 0 1 0 -4.4 0M189.52 182.46a2.2 2.2 0 1 0 4.4 0a2.2 2.2 0 1 0 -4.4 0M199.35 182.46a2.2 2.2 0 1 0 4.4 0a2.2 2.2 0 1 0 -4.4 0M209.18 182.46a2.2 2.2 0 1 0 4.4 0a2.2 2.2 0 1 0 -4.4 0M219.01 182.46a2.2 2.2 0 1 0 4.4 0a2.2 2.2 0 1 0 -4.4 0M228.84 182.46a2.2 2.2 0 1 0 4.4 0a2.2 2.2 0 1 0 -4.4 0M238.67 182.46a2.2 2.2 0 1 0 4.4 0a2.2 2.2 0 1 0 -4.4 0M248.51 182.46a2.2 2.2 0 1 0 4.4 0a2.2 2.2 0 1 0 -4.4 0M258.34 182.46a2.2 2.2 0 1 0 4.4 0a2.2 2.2 0 1 0 -4.4 0M445.14 182.46a2.2 2.2 0 1 0 4.4 0a2.2 2.2 0 1 0 -4.4 0M454.97 182.46a2.2 2.2 0 1 0 4.4 0a2.2 2.2 0 1 0 -4.4 0M523.79 182.46a2.2 2.2 0 1 0 4.4 0a2.2 2.2 0 1 0 -4.4 0M543.45 182.46a2.2 2.2 0 1 0 4.4 0a2.2 2.2 0 1 0 -4.4 0M553.28 182.46a2.2 2.2 0 1 0 4.4 0a2.2 2.2 0 1 0 -4.4 0M563.12 182.46a2.2 2.2 0 1 0 4.4 0a2.2 2.2 0 1 0 -4.4 0M572.95 182.46a2.2 2.2 0 1 0 4.4 0a2.2 2.2 0 1 0 -4.4 0M582.78 182.46a2.2 2.2 0 1 0 4.4 0a2.2 2.2 0 1 0 -4.4 0M592.61 182.46a2.2 2.2 0 1 0 4.4 0a2.2 2.2 0 1 0 -4.4 0M612.27 182.46a2.2 2.2 0 1 0 4.4 0a2.2 2.2 0 1 0 -4.4 0M622.11 182.46a2.2 2.2 0 1 0 4.4 0a2.2 2.2 0 1 0 -4.4 0M631.94 182.46a2.2 2.2 0 1 0 4.4 0a2.2 2.2 0 1 0 -4.4 0M641.77 182.46a2.2 2.2 0 1 0 4.4 0a2.2 2.2 0 1 0 -4.4 0M651.60 182.46a2.2 2.2 0 1 0 4.4 0a2.2 2.2 0 1 0 -4.4 0M661.43 182.46a2.2 2.2 0 1 0 4.4 0a2.2 2.2 0 1 0 -4.4 0M671.26 182.46a2.2 2.2 0 1 0 4.4 0a2.2 2.2 0 1 0 -4.4 0M681.09 182.46a2.2 2.2 0 1 0 4.4 0a2.2 2.2 0 1 0 -4.4 0M690.93 182.46a2.2 2.2 0 1 0 4.4 0a2.2 2.2 0 1 0 -4.4 0M700.76 182.46a2.2 2.2 0 1 0 4.4 0a2.2 2.2 0 1 0 -4.4 0M710.59 182.46a2.2 2.2 0 1 0 4.4 0a2.2 2.2 0 1 0 -4.4 0M720.42 182.46a2.2 2.2 0 1 0 4.4 0a2.2 2.2 0 1 0 -4.4 0M730.25 182.46a2.2 2.2 0 1 0 4.4 0a2.2 2.2 0 1 0 -4.4 0M740.08 182.46a2.2 2.2 0 1 0 4.4 0a2.2 2.2 0 1 0 -4.4 0M749.92 182.46a2.2 2.2 0 1 0 4.4 0a2.2 2.2 0 1 0 -4.4 0M759.75 182.46a2.2 2.2 0 1 0 4.4 0a2.2 2.2 0 1 0 -4.4 0M769.58 182.46a2.2 2.2 0 1 0 4.4 0a2.2 2.2 0 1 0 -4.4 0"/><path fill="#62b2e6" d="M477.85 139.89a3.9 3.9 0 1 0 7.8 0a3.9 3.9 0 1 0 -7.8 0M487.68 139.89a3.9 3.9 0 1 0 7.8 0a3.9 3.9 0 1 0 -7.8 0M482.76 148.40a3.9 3.9 0 1 0 7.8 0a3.9 3.9 0 1 0 -7.8 0M266.47 165.43a3.9 3.9 0 1 0 7.8 0a3.9 3.9 0 1 0 -7.8 0M266.47 182.46a3.9 3.9 0 1 0 7.8 0a3.9 3.9 0 1 0 -7.8 0"/></svg>
    </div>
   </div>
  </div>
  <!-- scrollbar -->
  <div class="a" style="left:1191px;top:93px;width:8px;height:177px;border-radius:4px;background:#9b9b9b"></div>
</div></div>
</body></html>
